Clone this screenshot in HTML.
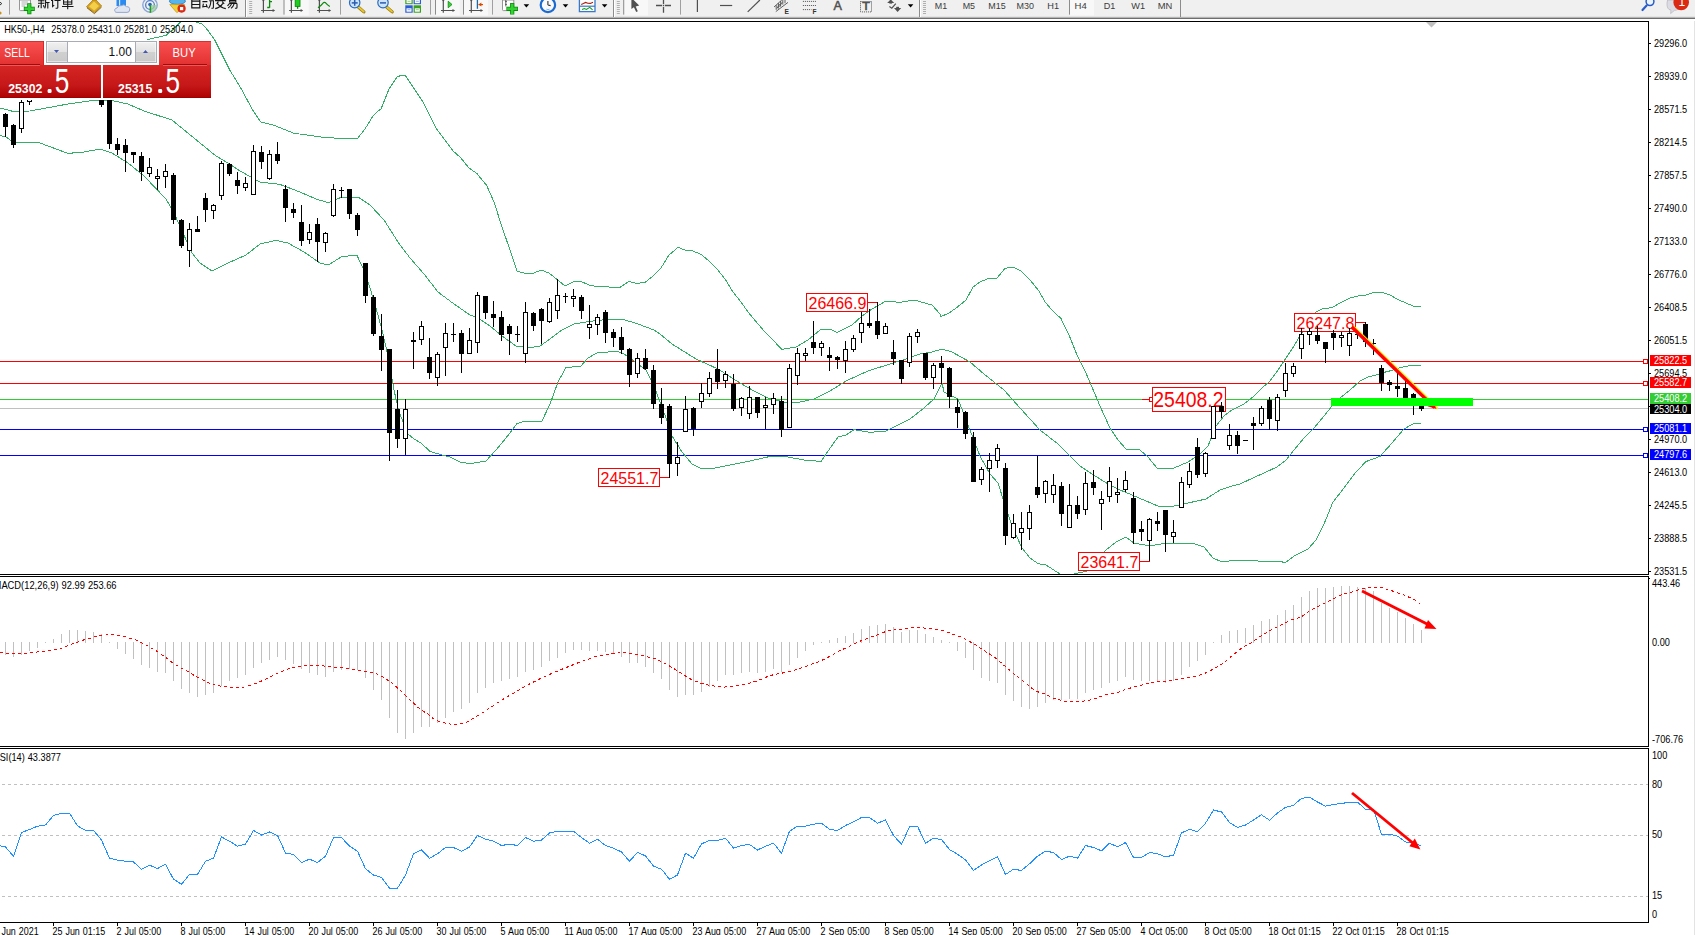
<!DOCTYPE html>
<html><head><meta charset="utf-8"><title>HK50-,H4</title>
<style>
html,body{margin:0;padding:0;background:#fff;}
body{width:1695px;height:935px;overflow:hidden;position:relative;font-family:"Liberation Sans",sans-serif;}
svg{position:absolute;left:0;top:0;display:block}
text{font-family:"Liberation Sans",sans-serif;}
.ax{font-size:9.2px;fill:#000}
.lb{font-size:17.5px;fill:#f00}
</style></head><body>
<svg width="1695" height="935" viewBox="0 0 1695 935">

<rect x="0" y="0" width="1695" height="935" fill="#fff"/>
<defs><clipPath id="cm"><rect x="0" y="22" width="1648" height="552"/></clipPath><clipPath id="c2"><rect x="0" y="577" width="1648" height="169"/></clipPath><clipPath id="c3"><rect x="0" y="749" width="1648" height="173"/></clipPath></defs>
<g clip-path="url(#cm)">
<rect x="0" y="361" width="1648" height="1" fill="#ff0000" shape-rendering="crispEdges"/>
<rect x="0" y="383" width="1648" height="1" fill="#ff0000" shape-rendering="crispEdges"/>
<rect x="0" y="399" width="1648" height="1" fill="#32cd32" shape-rendering="crispEdges"/>
<rect x="0" y="408" width="1648" height="1" fill="#c0c0c0" shape-rendering="crispEdges"/>
<rect x="0" y="429" width="1648" height="1" fill="#0000ff" shape-rendering="crispEdges"/>
<rect x="0" y="455" width="1648" height="1" fill="#0000ff" shape-rendering="crispEdges"/>
<rect x="1643.5" y="359.5" width="4" height="4" fill="#fff" stroke="#ff0000" stroke-width="1" shape-rendering="crispEdges"/>
<rect x="1643.5" y="381.5" width="4" height="4" fill="#fff" stroke="#ff0000" stroke-width="1" shape-rendering="crispEdges"/>
<rect x="1643.5" y="427.5" width="4" height="4" fill="#fff" stroke="#0000ff" stroke-width="1" shape-rendering="crispEdges"/>
<rect x="1643.5" y="453.5" width="4" height="4" fill="#fff" stroke="#0000ff" stroke-width="1" shape-rendering="crispEdges"/>
<polyline points="130.0,48.0 143.0,42.0 150.9,38.6 157.8,37.2 166.1,35.2 174.5,28.2 180.7,22.0 188.0,14.0 196.0,22.0 202.3,24.0 207.8,30.3 214.8,40.0 221.7,53.9 230.1,70.6 241.2,88.7 252.3,109.5 260.7,122.0 274.6,125.5 293.6,133.2 326.5,137.7 339.0,138.2 340.0,138.4 357.6,138.4 365.0,129.0 373.0,116.0 377.0,112.0 381.0,109.0 389.0,89.0 397.4,76.4 405.0,75.0 413.0,87.0 422.4,101.0 429.0,114.0 437.0,129.6 445.0,140.0 453.0,151.0 460.0,157.0 469.0,168.0 477.0,173.6 485.4,184.0 486.0,184.0 494.0,202.0 502.0,227.0 510.0,250.0 517.0,271.0 525.0,273.4 533.0,273.4 541.0,270.0 549.0,273.0 557.0,279.4 565.0,286.0 573.0,282.0 581.0,281.4 589.0,285.0 597.0,286.6 620.0,287.4 629.0,281.4 637.0,283.4 645.0,282.4 653.0,276.0 661.0,268.0 669.0,255.0 678.0,247.4 685.0,250.0 693.0,251.0 701.0,254.4 709.0,261.0 717.0,269.0 725.0,279.0 733.0,292.0 741.0,302.0 748.0,312.0 764.0,331.0 782.0,349.4 796.0,347.0 808.0,340.0 820.0,330.0 830.0,329.0 837.0,332.4 852.0,325.0 862.0,316.0 872.0,309.0 886.0,301.0 900.0,302.4 914.0,300.0 932.0,305.0 940.0,314.0 941.0,316.6 949.0,313.0 957.0,307.4 966.0,300.0 973.0,287.0 980.0,282.0 988.0,278.6 997.0,278.0 1005.0,268.4 1013.0,267.0 1021.0,271.0 1030.0,280.0 1039.0,291.0 1045.0,302.0 1052.0,310.0 1061.0,318.6 1069.0,335.0 1077.0,355.0 1085.0,371.0 1092.0,387.0 1100.0,406.0 1110.0,428.0 1118.0,440.0 1126.0,449.0 1140.0,450.0 1148.0,457.0 1157.0,468.0 1174.0,468.0 1188.0,462.0 1200.0,454.0 1208.0,446.0 1216.0,426.0 1224.0,416.0 1232.0,410.0 1244.0,404.0 1254.0,396.0 1262.0,388.0 1270.0,381.0 1278.0,370.0 1286.0,358.0 1294.0,346.0 1300.0,336.0 1308.0,322.0 1316.0,312.0 1322.0,309.0 1332.0,307.6 1340.0,303.0 1350.0,298.0 1360.0,295.6 1366.0,295.0 1374.0,292.4 1382.0,292.4 1390.0,295.0 1398.0,299.6 1406.0,303.0 1413.0,306.0 1421.0,306.0" fill="none" stroke="#34ae68" stroke-width="1" shape-rendering="crispEdges" />
<polyline points="0.0,108.0 13.0,111.4 30.0,111.0 68.0,104.0 96.0,100.0 112.0,100.6 128.0,104.0 144.0,111.0 172.0,120.0 200.0,143.0 216.0,156.0 228.0,163.0 240.0,171.0 260.0,182.0 280.0,184.4 300.0,192.0 316.0,199.0 326.0,202.0 330.0,202.0 342.0,197.0 358.0,197.0 370.0,205.0 384.0,220.0 398.0,242.0 410.0,258.0 424.0,274.0 438.0,292.0 454.0,304.0 470.0,315.0 478.0,318.0 490.0,326.0 502.0,336.0 516.0,346.0 530.0,347.6 540.0,346.0 550.0,339.0 562.0,330.0 574.0,324.0 590.0,321.4 610.0,319.0 622.0,319.0 638.0,324.0 654.0,330.0 660.0,334.0 672.0,344.0 696.0,359.0 718.0,369.0 740.0,383.0 754.0,391.0 768.0,398.0 784.0,402.0 800.0,402.0 814.0,399.0 830.0,391.0 846.0,381.0 868.0,371.0 890.0,364.0 906.0,359.0 920.0,354.0 932.0,352.0 942.0,349.0 952.0,352.0 970.0,362.0 984.0,374.0 1004.0,390.0 1020.0,408.0 1040.0,430.0 1058.0,444.0 1070.0,456.0 1080.0,466.0 1092.0,474.0 1108.0,484.0 1120.0,490.0 1132.0,495.0 1146.0,501.0 1158.0,506.0 1174.0,506.0 1188.0,503.0 1206.0,499.0 1220.0,490.0 1232.0,486.0 1239.0,484.4 1277.0,467.0 1286.0,460.0 1294.0,450.0 1304.0,438.0 1314.0,428.0 1324.0,416.0 1332.0,406.0 1340.0,398.0 1350.0,390.0 1360.0,381.0 1368.0,377.0 1376.0,375.0 1384.0,372.4 1392.0,370.4 1400.0,367.6 1410.0,365.6 1421.0,365.4" fill="none" stroke="#34ae68" stroke-width="1" shape-rendering="crispEdges" />
<polyline points="0.0,135.4 6.0,137.0 14.0,142.6 40.0,143.0 68.0,153.4 84.0,152.0 100.0,149.0 112.0,153.0 128.0,163.0 144.0,176.0 166.0,199.0 174.0,213.0 192.0,253.0 200.0,263.0 212.0,271.0 228.0,263.0 246.0,255.0 260.0,244.0 276.0,240.4 288.0,243.0 304.0,252.0 320.0,263.0 328.0,265.0 330.0,264.0 342.0,256.4 357.0,255.4 363.0,268.0 370.0,288.0 376.0,308.0 382.0,330.0 388.0,356.0 394.0,390.0 399.0,412.0 408.0,434.0 414.0,439.0 421.0,443.0 430.0,451.4 440.0,454.4 450.0,457.0 460.0,462.0 470.0,463.6 486.0,461.0 496.0,450.0 506.0,438.0 517.0,423.6 522.0,422.0 542.0,421.0 550.0,404.0 558.0,382.0 566.0,367.6 581.0,366.0 588.0,358.0 598.0,352.4 618.0,351.6 624.0,354.0 630.0,358.0 638.0,364.0 646.0,370.0 654.0,386.0 660.0,402.0 666.0,418.0 672.0,436.0 682.0,452.0 692.0,464.0 700.0,468.0 710.0,469.0 730.0,465.0 750.0,461.0 772.0,456.0 788.0,457.0 804.0,460.0 821.0,461.4 826.0,454.0 838.0,437.0 846.0,435.0 854.0,429.6 870.0,432.4 886.0,431.0 898.0,425.0 910.0,419.0 924.0,408.0 934.0,399.0 942.0,383.0 944.0,392.0 958.0,399.0 968.0,425.0 980.0,456.0 990.0,474.0 998.0,483.0 1004.0,502.0 1012.0,526.0 1022.0,548.0 1030.0,558.0 1038.0,563.6 1046.0,565.0 1060.0,574.0" fill="none" stroke="#34ae68" stroke-width="1" shape-rendering="crispEdges" />
<polyline points="1074.0,574.0 1087.0,571.0 1106.0,550.0 1116.0,542.0 1126.0,537.0 1134.0,543.0 1150.0,546.0 1166.0,543.0 1180.0,543.0 1194.0,543.6 1204.0,547.0 1213.0,558.0 1222.0,562.0 1236.0,560.0 1258.0,561.0 1280.0,561.0 1285.0,563.0 1294.0,556.0 1308.0,549.0 1316.0,540.0 1324.0,524.0 1333.0,502.0 1344.0,488.0 1356.0,472.0 1366.0,461.6 1380.0,456.4 1392.0,443.0 1404.0,429.0 1413.0,424.0 1421.0,423.4" fill="none" stroke="#34ae68" stroke-width="1" shape-rendering="crispEdges" />
<rect x="868" y="302" width="10" height="1" fill="#f00" shape-rendering="crispEdges"/>
<rect x="806.5" y="293.5" width="61" height="18" fill="#fff" stroke="#f00" stroke-width="1" shape-rendering="crispEdges"/>
<text x="808.5" y="309" font-size="16.5" fill="#f00" textLength="57.8" lengthAdjust="spacingAndGlyphs">26466.9</text>
<rect x="660" y="477" width="10" height="1" fill="#f00" shape-rendering="crispEdges"/>
<rect x="598.5" y="468.5" width="61" height="18" fill="#fff" stroke="#f00" stroke-width="1" shape-rendering="crispEdges"/>
<text x="600.5" y="484" font-size="16.5" fill="#f00" textLength="57.8" lengthAdjust="spacingAndGlyphs">24551.7</text>
<rect x="1140" y="561" width="10" height="1" fill="#f00" shape-rendering="crispEdges"/>
<rect x="1078.5" y="552.5" width="61" height="18" fill="#fff" stroke="#f00" stroke-width="1" shape-rendering="crispEdges"/>
<text x="1080.5" y="568" font-size="16.5" fill="#f00" textLength="57.8" lengthAdjust="spacingAndGlyphs">23641.7</text>
<rect x="1356" y="322" width="10" height="1" fill="#f00" shape-rendering="crispEdges"/>
<rect x="1294.5" y="313.5" width="61" height="18" fill="#fff" stroke="#f00" stroke-width="1" shape-rendering="crispEdges"/>
<text x="1296.5" y="329" font-size="16.5" fill="#f00" textLength="57.8" lengthAdjust="spacingAndGlyphs">26247.8</text>
<rect x="1142" y="399" width="10" height="1" fill="#f00" shape-rendering="crispEdges"/>
<rect x="1149.5" y="397.5" width="4" height="4" fill="#fff" stroke="#f00" shape-rendering="crispEdges"/>
<rect x="1152.5" y="387.5" width="73" height="24" fill="#fff" stroke="#f00" stroke-width="1" shape-rendering="crispEdges"/>
<text x="1153.3" y="407.2" font-size="22.6" fill="#f00" textLength="70.2" lengthAdjust="spacingAndGlyphs">25408.2</text>
<g shape-rendering="crispEdges">
<rect x="5" y="113" width="1" height="24" fill="#000"/>
<rect x="3" y="114" width="5" height="13" fill="#000"/>
<rect x="13" y="124" width="1" height="24" fill="#000"/>
<rect x="11" y="125" width="5" height="20" fill="#000"/>
<rect x="21" y="100" width="1" height="33" fill="#000"/>
<rect x="19" y="102" width="5" height="27" fill="#000"/>
<rect x="20" y="103" width="3" height="25" fill="#fff"/>
<rect x="29" y="91" width="1" height="14" fill="#000"/>
<rect x="27" y="93" width="5" height="9" fill="#000"/>
<rect x="28" y="94" width="3" height="7" fill="#fff"/>
<rect x="101" y="97" width="1" height="10" fill="#000"/>
<rect x="99" y="99" width="5" height="6" fill="#000"/>
<rect x="109" y="97" width="1" height="52" fill="#000"/>
<rect x="107" y="98" width="5" height="46" fill="#000"/>
<rect x="117" y="138" width="1" height="17" fill="#000"/>
<rect x="115" y="144" width="5" height="6" fill="#000"/>
<rect x="125" y="139" width="1" height="33" fill="#000"/>
<rect x="123" y="145" width="5" height="8" fill="#000"/>
<rect x="133" y="152" width="1" height="11" fill="#000"/>
<rect x="131" y="152" width="5" height="3" fill="#000"/>
<rect x="141" y="152" width="1" height="29" fill="#000"/>
<rect x="139" y="156" width="5" height="16" fill="#000"/>
<rect x="149" y="158" width="1" height="19" fill="#000"/>
<rect x="147" y="167" width="5" height="7" fill="#000"/>
<rect x="148" y="168" width="3" height="5" fill="#fff"/>
<rect x="157" y="169" width="1" height="21" fill="#000"/>
<rect x="155" y="176" width="5" height="3" fill="#000"/>
<rect x="156" y="177" width="3" height="1" fill="#fff"/>
<rect x="165" y="164" width="1" height="24" fill="#000"/>
<rect x="163" y="171" width="5" height="6" fill="#000"/>
<rect x="164" y="172" width="3" height="4" fill="#fff"/>
<rect x="173" y="173" width="1" height="51" fill="#000"/>
<rect x="171" y="175" width="5" height="45" fill="#000"/>
<rect x="181" y="219" width="1" height="29" fill="#000"/>
<rect x="179" y="220" width="5" height="26" fill="#000"/>
<rect x="189" y="223" width="1" height="44" fill="#000"/>
<rect x="187" y="229" width="5" height="22" fill="#000"/>
<rect x="188" y="230" width="3" height="20" fill="#fff"/>
<rect x="197" y="216" width="1" height="16" fill="#000"/>
<rect x="195" y="229" width="5" height="3" fill="#000"/>
<rect x="205" y="193" width="1" height="29" fill="#000"/>
<rect x="203" y="198" width="5" height="12" fill="#000"/>
<rect x="213" y="204" width="1" height="15" fill="#000"/>
<rect x="211" y="205" width="5" height="6" fill="#000"/>
<rect x="212" y="206" width="3" height="4" fill="#fff"/>
<rect x="221" y="161" width="1" height="39" fill="#000"/>
<rect x="219" y="163" width="5" height="33" fill="#000"/>
<rect x="220" y="164" width="3" height="31" fill="#fff"/>
<rect x="229" y="163" width="1" height="13" fill="#000"/>
<rect x="227" y="164" width="5" height="10" fill="#000"/>
<rect x="237" y="172" width="1" height="22" fill="#000"/>
<rect x="235" y="180" width="5" height="6" fill="#000"/>
<rect x="245" y="177" width="1" height="14" fill="#000"/>
<rect x="243" y="183" width="5" height="5" fill="#000"/>
<rect x="244" y="184" width="3" height="3" fill="#fff"/>
<rect x="253" y="145" width="1" height="50" fill="#000"/>
<rect x="251" y="151" width="5" height="44" fill="#000"/>
<rect x="252" y="152" width="3" height="42" fill="#fff"/>
<rect x="261" y="146" width="1" height="23" fill="#000"/>
<rect x="259" y="152" width="5" height="10" fill="#000"/>
<rect x="269" y="150" width="1" height="30" fill="#000"/>
<rect x="267" y="154" width="5" height="25" fill="#000"/>
<rect x="268" y="155" width="3" height="23" fill="#fff"/>
<rect x="277" y="142" width="1" height="22" fill="#000"/>
<rect x="275" y="154" width="5" height="7" fill="#000"/>
<rect x="285" y="185" width="1" height="37" fill="#000"/>
<rect x="283" y="189" width="5" height="19" fill="#000"/>
<rect x="293" y="203" width="1" height="15" fill="#000"/>
<rect x="291" y="209" width="5" height="4" fill="#000"/>
<rect x="301" y="205" width="1" height="41" fill="#000"/>
<rect x="299" y="222" width="5" height="19" fill="#000"/>
<rect x="309" y="224" width="1" height="20" fill="#000"/>
<rect x="307" y="232" width="5" height="8" fill="#000"/>
<rect x="308" y="233" width="3" height="6" fill="#fff"/>
<rect x="317" y="218" width="1" height="44" fill="#000"/>
<rect x="315" y="224" width="5" height="18" fill="#000"/>
<rect x="325" y="232" width="1" height="20" fill="#000"/>
<rect x="323" y="233" width="5" height="10" fill="#000"/>
<rect x="324" y="234" width="3" height="8" fill="#fff"/>
<rect x="333" y="184" width="1" height="33" fill="#000"/>
<rect x="331" y="189" width="5" height="27" fill="#000"/>
<rect x="332" y="190" width="3" height="25" fill="#fff"/>
<rect x="341" y="187" width="1" height="11" fill="#000"/>
<rect x="339" y="190" width="5" height="1" fill="#000"/>
<rect x="349" y="189" width="1" height="30" fill="#000"/>
<rect x="347" y="189" width="5" height="25" fill="#000"/>
<rect x="357" y="213" width="1" height="23" fill="#000"/>
<rect x="355" y="215" width="5" height="15" fill="#000"/>
<rect x="365" y="263" width="1" height="40" fill="#000"/>
<rect x="363" y="263" width="5" height="33" fill="#000"/>
<rect x="373" y="295" width="1" height="41" fill="#000"/>
<rect x="371" y="297" width="5" height="37" fill="#000"/>
<rect x="381" y="314" width="1" height="57" fill="#000"/>
<rect x="379" y="336" width="5" height="14" fill="#000"/>
<rect x="389" y="349" width="1" height="112" fill="#000"/>
<rect x="387" y="349" width="5" height="84" fill="#000"/>
<rect x="397" y="390" width="1" height="58" fill="#000"/>
<rect x="395" y="409" width="5" height="30" fill="#000"/>
<rect x="405" y="399" width="1" height="56" fill="#000"/>
<rect x="403" y="409" width="5" height="30" fill="#000"/>
<rect x="404" y="410" width="3" height="28" fill="#fff"/>
<rect x="413" y="332" width="1" height="37" fill="#000"/>
<rect x="411" y="340" width="5" height="2" fill="#000"/>
<rect x="421" y="321" width="1" height="24" fill="#000"/>
<rect x="419" y="326" width="5" height="14" fill="#000"/>
<rect x="420" y="327" width="3" height="12" fill="#fff"/>
<rect x="429" y="338" width="1" height="41" fill="#000"/>
<rect x="427" y="357" width="5" height="16" fill="#000"/>
<rect x="437" y="352" width="1" height="34" fill="#000"/>
<rect x="435" y="354" width="5" height="24" fill="#000"/>
<rect x="436" y="355" width="3" height="22" fill="#fff"/>
<rect x="445" y="323" width="1" height="53" fill="#000"/>
<rect x="443" y="333" width="5" height="15" fill="#000"/>
<rect x="444" y="334" width="3" height="13" fill="#fff"/>
<rect x="453" y="323" width="1" height="19" fill="#000"/>
<rect x="451" y="334" width="5" height="1" fill="#000"/>
<rect x="461" y="330" width="1" height="43" fill="#000"/>
<rect x="459" y="333" width="5" height="21" fill="#000"/>
<rect x="469" y="328" width="1" height="26" fill="#000"/>
<rect x="467" y="340" width="5" height="14" fill="#000"/>
<rect x="468" y="341" width="3" height="12" fill="#fff"/>
<rect x="477" y="292" width="1" height="61" fill="#000"/>
<rect x="475" y="295" width="5" height="48" fill="#000"/>
<rect x="476" y="296" width="3" height="46" fill="#fff"/>
<rect x="485" y="296" width="1" height="23" fill="#000"/>
<rect x="483" y="296" width="5" height="17" fill="#000"/>
<rect x="493" y="301" width="1" height="26" fill="#000"/>
<rect x="491" y="314" width="5" height="4" fill="#000"/>
<rect x="501" y="311" width="1" height="30" fill="#000"/>
<rect x="499" y="317" width="5" height="18" fill="#000"/>
<rect x="509" y="324" width="1" height="31" fill="#000"/>
<rect x="507" y="326" width="5" height="8" fill="#000"/>
<rect x="517" y="326" width="1" height="16" fill="#000"/>
<rect x="515" y="334" width="5" height="1" fill="#000"/>
<rect x="525" y="302" width="1" height="61" fill="#000"/>
<rect x="523" y="312" width="5" height="42" fill="#000"/>
<rect x="524" y="313" width="3" height="40" fill="#fff"/>
<rect x="533" y="312" width="1" height="19" fill="#000"/>
<rect x="531" y="313" width="5" height="13" fill="#000"/>
<rect x="541" y="308" width="1" height="36" fill="#000"/>
<rect x="539" y="309" width="5" height="12" fill="#000"/>
<rect x="549" y="298" width="1" height="25" fill="#000"/>
<rect x="547" y="302" width="5" height="20" fill="#000"/>
<rect x="548" y="303" width="3" height="18" fill="#fff"/>
<rect x="557" y="279" width="1" height="40" fill="#000"/>
<rect x="555" y="295" width="5" height="16" fill="#000"/>
<rect x="556" y="296" width="3" height="14" fill="#fff"/>
<rect x="565" y="293" width="1" height="10" fill="#000"/>
<rect x="563" y="296" width="5" height="1" fill="#000"/>
<rect x="573" y="289" width="1" height="18" fill="#000"/>
<rect x="571" y="296" width="5" height="3" fill="#000"/>
<rect x="572" y="297" width="3" height="1" fill="#fff"/>
<rect x="581" y="295" width="1" height="24" fill="#000"/>
<rect x="579" y="297" width="5" height="14" fill="#000"/>
<rect x="589" y="305" width="1" height="34" fill="#000"/>
<rect x="587" y="324" width="5" height="4" fill="#000"/>
<rect x="588" y="325" width="3" height="2" fill="#fff"/>
<rect x="597" y="314" width="1" height="21" fill="#000"/>
<rect x="595" y="317" width="5" height="8" fill="#000"/>
<rect x="596" y="318" width="3" height="6" fill="#fff"/>
<rect x="605" y="310" width="1" height="33" fill="#000"/>
<rect x="603" y="312" width="5" height="21" fill="#000"/>
<rect x="613" y="329" width="1" height="18" fill="#000"/>
<rect x="611" y="332" width="5" height="6" fill="#000"/>
<rect x="621" y="327" width="1" height="27" fill="#000"/>
<rect x="619" y="337" width="5" height="13" fill="#000"/>
<rect x="629" y="348" width="1" height="39" fill="#000"/>
<rect x="627" y="349" width="5" height="26" fill="#000"/>
<rect x="637" y="353" width="1" height="25" fill="#000"/>
<rect x="635" y="358" width="5" height="16" fill="#000"/>
<rect x="636" y="359" width="3" height="14" fill="#fff"/>
<rect x="645" y="349" width="1" height="21" fill="#000"/>
<rect x="643" y="358" width="5" height="11" fill="#000"/>
<rect x="653" y="365" width="1" height="44" fill="#000"/>
<rect x="651" y="370" width="5" height="34" fill="#000"/>
<rect x="661" y="388" width="1" height="36" fill="#000"/>
<rect x="659" y="404" width="5" height="14" fill="#000"/>
<rect x="669" y="404" width="1" height="74" fill="#000"/>
<rect x="667" y="406" width="5" height="58" fill="#000"/>
<rect x="677" y="442" width="1" height="34" fill="#000"/>
<rect x="675" y="457" width="5" height="7" fill="#000"/>
<rect x="676" y="458" width="3" height="5" fill="#fff"/>
<rect x="685" y="396" width="1" height="36" fill="#000"/>
<rect x="683" y="409" width="5" height="23" fill="#000"/>
<rect x="684" y="410" width="3" height="21" fill="#fff"/>
<rect x="693" y="407" width="1" height="29" fill="#000"/>
<rect x="691" y="408" width="5" height="21" fill="#000"/>
<rect x="701" y="383" width="1" height="25" fill="#000"/>
<rect x="699" y="393" width="5" height="9" fill="#000"/>
<rect x="700" y="394" width="3" height="7" fill="#fff"/>
<rect x="709" y="372" width="1" height="25" fill="#000"/>
<rect x="707" y="378" width="5" height="16" fill="#000"/>
<rect x="708" y="379" width="3" height="14" fill="#fff"/>
<rect x="717" y="349" width="1" height="40" fill="#000"/>
<rect x="715" y="369" width="5" height="13" fill="#000"/>
<rect x="725" y="371" width="1" height="17" fill="#000"/>
<rect x="723" y="374" width="5" height="7" fill="#000"/>
<rect x="724" y="375" width="3" height="5" fill="#fff"/>
<rect x="733" y="374" width="1" height="37" fill="#000"/>
<rect x="731" y="384" width="5" height="25" fill="#000"/>
<rect x="741" y="397" width="1" height="19" fill="#000"/>
<rect x="739" y="398" width="5" height="10" fill="#000"/>
<rect x="740" y="399" width="3" height="8" fill="#fff"/>
<rect x="749" y="386" width="1" height="33" fill="#000"/>
<rect x="747" y="397" width="5" height="17" fill="#000"/>
<rect x="748" y="398" width="3" height="15" fill="#fff"/>
<rect x="757" y="397" width="1" height="21" fill="#000"/>
<rect x="755" y="397" width="5" height="16" fill="#000"/>
<rect x="765" y="397" width="1" height="32" fill="#000"/>
<rect x="763" y="405" width="5" height="3" fill="#000"/>
<rect x="764" y="406" width="3" height="1" fill="#fff"/>
<rect x="773" y="393" width="1" height="21" fill="#000"/>
<rect x="771" y="398" width="5" height="7" fill="#000"/>
<rect x="772" y="399" width="3" height="5" fill="#fff"/>
<rect x="781" y="396" width="1" height="41" fill="#000"/>
<rect x="779" y="401" width="5" height="29" fill="#000"/>
<rect x="789" y="364" width="1" height="64" fill="#000"/>
<rect x="787" y="368" width="5" height="60" fill="#000"/>
<rect x="788" y="369" width="3" height="58" fill="#fff"/>
<rect x="797" y="348" width="1" height="37" fill="#000"/>
<rect x="795" y="353" width="5" height="23" fill="#000"/>
<rect x="796" y="354" width="3" height="21" fill="#fff"/>
<rect x="805" y="348" width="1" height="13" fill="#000"/>
<rect x="803" y="353" width="5" height="3" fill="#000"/>
<rect x="804" y="354" width="3" height="1" fill="#fff"/>
<rect x="813" y="321" width="1" height="33" fill="#000"/>
<rect x="811" y="342" width="5" height="6" fill="#000"/>
<rect x="821" y="341" width="1" height="15" fill="#000"/>
<rect x="819" y="343" width="5" height="5" fill="#000"/>
<rect x="820" y="344" width="3" height="3" fill="#fff"/>
<rect x="829" y="347" width="1" height="24" fill="#000"/>
<rect x="827" y="355" width="5" height="3" fill="#000"/>
<rect x="837" y="356" width="1" height="13" fill="#000"/>
<rect x="835" y="357" width="5" height="3" fill="#000"/>
<rect x="845" y="341" width="1" height="32" fill="#000"/>
<rect x="843" y="349" width="5" height="12" fill="#000"/>
<rect x="844" y="350" width="3" height="10" fill="#fff"/>
<rect x="853" y="335" width="1" height="17" fill="#000"/>
<rect x="851" y="338" width="5" height="12" fill="#000"/>
<rect x="852" y="339" width="3" height="10" fill="#fff"/>
<rect x="861" y="312" width="1" height="31" fill="#000"/>
<rect x="859" y="323" width="5" height="10" fill="#000"/>
<rect x="860" y="324" width="3" height="8" fill="#fff"/>
<rect x="869" y="309" width="1" height="19" fill="#000"/>
<rect x="867" y="323" width="5" height="3" fill="#000"/>
<rect x="877" y="302" width="1" height="37" fill="#000"/>
<rect x="875" y="321" width="5" height="14" fill="#000"/>
<rect x="885" y="323" width="1" height="11" fill="#000"/>
<rect x="883" y="326" width="5" height="8" fill="#000"/>
<rect x="884" y="327" width="3" height="6" fill="#fff"/>
<rect x="893" y="340" width="1" height="25" fill="#000"/>
<rect x="891" y="352" width="5" height="7" fill="#000"/>
<rect x="901" y="360" width="1" height="24" fill="#000"/>
<rect x="899" y="360" width="5" height="19" fill="#000"/>
<rect x="909" y="333" width="1" height="34" fill="#000"/>
<rect x="907" y="336" width="5" height="27" fill="#000"/>
<rect x="908" y="337" width="3" height="25" fill="#fff"/>
<rect x="917" y="329" width="1" height="14" fill="#000"/>
<rect x="915" y="332" width="5" height="5" fill="#000"/>
<rect x="916" y="333" width="3" height="3" fill="#fff"/>
<rect x="925" y="353" width="1" height="27" fill="#000"/>
<rect x="923" y="353" width="5" height="25" fill="#000"/>
<rect x="933" y="363" width="1" height="26" fill="#000"/>
<rect x="931" y="365" width="5" height="13" fill="#000"/>
<rect x="932" y="366" width="3" height="11" fill="#fff"/>
<rect x="941" y="356" width="1" height="28" fill="#000"/>
<rect x="939" y="363" width="5" height="5" fill="#000"/>
<rect x="949" y="367" width="1" height="41" fill="#000"/>
<rect x="947" y="368" width="5" height="29" fill="#000"/>
<rect x="957" y="399" width="1" height="29" fill="#000"/>
<rect x="955" y="407" width="5" height="6" fill="#000"/>
<rect x="965" y="411" width="1" height="28" fill="#000"/>
<rect x="963" y="412" width="5" height="22" fill="#000"/>
<rect x="973" y="432" width="1" height="50" fill="#000"/>
<rect x="971" y="437" width="5" height="45" fill="#000"/>
<rect x="981" y="467" width="1" height="18" fill="#000"/>
<rect x="979" y="469" width="5" height="11" fill="#000"/>
<rect x="980" y="470" width="3" height="9" fill="#fff"/>
<rect x="989" y="453" width="1" height="39" fill="#000"/>
<rect x="987" y="460" width="5" height="9" fill="#000"/>
<rect x="988" y="461" width="3" height="7" fill="#fff"/>
<rect x="997" y="444" width="1" height="24" fill="#000"/>
<rect x="995" y="448" width="5" height="13" fill="#000"/>
<rect x="996" y="449" width="3" height="11" fill="#fff"/>
<rect x="1005" y="463" width="1" height="82" fill="#000"/>
<rect x="1003" y="468" width="5" height="68" fill="#000"/>
<rect x="1013" y="514" width="1" height="25" fill="#000"/>
<rect x="1011" y="523" width="5" height="15" fill="#000"/>
<rect x="1012" y="524" width="3" height="13" fill="#fff"/>
<rect x="1021" y="512" width="1" height="38" fill="#000"/>
<rect x="1019" y="528" width="5" height="5" fill="#000"/>
<rect x="1020" y="529" width="3" height="3" fill="#fff"/>
<rect x="1029" y="505" width="1" height="35" fill="#000"/>
<rect x="1027" y="512" width="5" height="17" fill="#000"/>
<rect x="1028" y="513" width="3" height="15" fill="#fff"/>
<rect x="1037" y="456" width="1" height="42" fill="#000"/>
<rect x="1035" y="487" width="5" height="8" fill="#000"/>
<rect x="1045" y="480" width="1" height="23" fill="#000"/>
<rect x="1043" y="481" width="5" height="13" fill="#000"/>
<rect x="1044" y="482" width="3" height="11" fill="#fff"/>
<rect x="1053" y="474" width="1" height="29" fill="#000"/>
<rect x="1051" y="485" width="5" height="10" fill="#000"/>
<rect x="1052" y="486" width="3" height="8" fill="#fff"/>
<rect x="1061" y="482" width="1" height="44" fill="#000"/>
<rect x="1059" y="486" width="5" height="28" fill="#000"/>
<rect x="1069" y="484" width="1" height="44" fill="#000"/>
<rect x="1067" y="505" width="5" height="23" fill="#000"/>
<rect x="1068" y="506" width="3" height="21" fill="#fff"/>
<rect x="1077" y="496" width="1" height="23" fill="#000"/>
<rect x="1075" y="505" width="5" height="9" fill="#000"/>
<rect x="1085" y="472" width="1" height="43" fill="#000"/>
<rect x="1083" y="483" width="5" height="27" fill="#000"/>
<rect x="1084" y="484" width="3" height="25" fill="#fff"/>
<rect x="1093" y="470" width="1" height="25" fill="#000"/>
<rect x="1091" y="482" width="5" height="6" fill="#000"/>
<rect x="1101" y="491" width="1" height="39" fill="#000"/>
<rect x="1099" y="499" width="5" height="5" fill="#000"/>
<rect x="1100" y="500" width="3" height="3" fill="#fff"/>
<rect x="1109" y="467" width="1" height="35" fill="#000"/>
<rect x="1107" y="481" width="5" height="16" fill="#000"/>
<rect x="1108" y="482" width="3" height="14" fill="#fff"/>
<rect x="1117" y="478" width="1" height="25" fill="#000"/>
<rect x="1115" y="492" width="5" height="3" fill="#000"/>
<rect x="1116" y="493" width="3" height="1" fill="#fff"/>
<rect x="1125" y="471" width="1" height="21" fill="#000"/>
<rect x="1123" y="480" width="5" height="10" fill="#000"/>
<rect x="1124" y="481" width="3" height="8" fill="#fff"/>
<rect x="1133" y="492" width="1" height="52" fill="#000"/>
<rect x="1131" y="498" width="5" height="35" fill="#000"/>
<rect x="1141" y="521" width="1" height="20" fill="#000"/>
<rect x="1139" y="529" width="5" height="3" fill="#000"/>
<rect x="1149" y="518" width="1" height="43" fill="#000"/>
<rect x="1147" y="519" width="5" height="22" fill="#000"/>
<rect x="1148" y="520" width="3" height="20" fill="#fff"/>
<rect x="1157" y="512" width="1" height="19" fill="#000"/>
<rect x="1155" y="521" width="5" height="3" fill="#000"/>
<rect x="1165" y="510" width="1" height="42" fill="#000"/>
<rect x="1163" y="510" width="5" height="25" fill="#000"/>
<rect x="1173" y="520" width="1" height="23" fill="#000"/>
<rect x="1171" y="532" width="5" height="5" fill="#000"/>
<rect x="1172" y="533" width="3" height="3" fill="#fff"/>
<rect x="1181" y="477" width="1" height="31" fill="#000"/>
<rect x="1179" y="482" width="5" height="26" fill="#000"/>
<rect x="1180" y="483" width="3" height="24" fill="#fff"/>
<rect x="1189" y="463" width="1" height="25" fill="#000"/>
<rect x="1187" y="471" width="5" height="14" fill="#000"/>
<rect x="1188" y="472" width="3" height="12" fill="#fff"/>
<rect x="1197" y="438" width="1" height="40" fill="#000"/>
<rect x="1195" y="447" width="5" height="28" fill="#000"/>
<rect x="1205" y="452" width="1" height="25" fill="#000"/>
<rect x="1203" y="453" width="5" height="21" fill="#000"/>
<rect x="1204" y="454" width="3" height="19" fill="#fff"/>
<rect x="1213" y="406" width="1" height="33" fill="#000"/>
<rect x="1211" y="406" width="5" height="33" fill="#000"/>
<rect x="1212" y="407" width="3" height="31" fill="#fff"/>
<rect x="1221" y="402" width="1" height="16" fill="#000"/>
<rect x="1219" y="406" width="5" height="6" fill="#000"/>
<rect x="1229" y="424" width="1" height="26" fill="#000"/>
<rect x="1227" y="435" width="5" height="11" fill="#000"/>
<rect x="1228" y="436" width="3" height="9" fill="#fff"/>
<rect x="1237" y="431" width="1" height="23" fill="#000"/>
<rect x="1235" y="435" width="5" height="11" fill="#000"/>
<rect x="1245" y="440" width="1" height="1" fill="#000"/>
<rect x="1243" y="440" width="5" height="1" fill="#000"/>
<rect x="1253" y="417" width="1" height="33" fill="#000"/>
<rect x="1251" y="423" width="5" height="3" fill="#000"/>
<rect x="1261" y="406" width="1" height="20" fill="#000"/>
<rect x="1259" y="408" width="5" height="16" fill="#000"/>
<rect x="1260" y="409" width="3" height="14" fill="#fff"/>
<rect x="1269" y="397" width="1" height="33" fill="#000"/>
<rect x="1267" y="400" width="5" height="19" fill="#000"/>
<rect x="1277" y="394" width="1" height="37" fill="#000"/>
<rect x="1275" y="397" width="5" height="24" fill="#000"/>
<rect x="1276" y="398" width="3" height="22" fill="#fff"/>
<rect x="1285" y="363" width="1" height="34" fill="#000"/>
<rect x="1283" y="373" width="5" height="18" fill="#000"/>
<rect x="1284" y="374" width="3" height="16" fill="#fff"/>
<rect x="1293" y="363" width="1" height="14" fill="#000"/>
<rect x="1291" y="366" width="5" height="8" fill="#000"/>
<rect x="1292" y="367" width="3" height="6" fill="#fff"/>
<rect x="1301" y="328" width="1" height="31" fill="#000"/>
<rect x="1299" y="334" width="5" height="15" fill="#000"/>
<rect x="1300" y="335" width="3" height="13" fill="#fff"/>
<rect x="1309" y="328" width="1" height="17" fill="#000"/>
<rect x="1307" y="331" width="5" height="4" fill="#000"/>
<rect x="1308" y="332" width="3" height="2" fill="#fff"/>
<rect x="1317" y="326" width="1" height="18" fill="#000"/>
<rect x="1315" y="335" width="5" height="6" fill="#000"/>
<rect x="1325" y="342" width="1" height="21" fill="#000"/>
<rect x="1323" y="342" width="5" height="7" fill="#000"/>
<rect x="1333" y="330" width="1" height="20" fill="#000"/>
<rect x="1331" y="333" width="5" height="5" fill="#000"/>
<rect x="1341" y="332" width="1" height="15" fill="#000"/>
<rect x="1339" y="335" width="5" height="3" fill="#000"/>
<rect x="1340" y="336" width="3" height="1" fill="#fff"/>
<rect x="1349" y="328" width="1" height="28" fill="#000"/>
<rect x="1347" y="333" width="5" height="13" fill="#000"/>
<rect x="1348" y="334" width="3" height="11" fill="#fff"/>
<rect x="1357" y="330" width="1" height="9" fill="#000"/>
<rect x="1355" y="334" width="5" height="1" fill="#000"/>
<rect x="1365" y="322" width="1" height="25" fill="#000"/>
<rect x="1363" y="324" width="5" height="18" fill="#000"/>
<rect x="1373" y="339" width="1" height="16" fill="#000"/>
<rect x="1371" y="343" width="5" height="1" fill="#000"/>
<rect x="1381" y="365" width="1" height="26" fill="#000"/>
<rect x="1379" y="368" width="5" height="15" fill="#000"/>
<rect x="1389" y="380" width="1" height="11" fill="#000"/>
<rect x="1387" y="382" width="5" height="3" fill="#000"/>
<rect x="1397" y="372" width="1" height="25" fill="#000"/>
<rect x="1395" y="386" width="5" height="3" fill="#000"/>
<rect x="1405" y="381" width="1" height="20" fill="#000"/>
<rect x="1403" y="388" width="5" height="12" fill="#000"/>
<rect x="1413" y="393" width="1" height="22" fill="#000"/>
<rect x="1411" y="394" width="5" height="6" fill="#000"/>
<rect x="1421" y="402" width="1" height="9" fill="#000"/>
<rect x="1419" y="406" width="5" height="3" fill="#000"/>
</g>
<line x1="1353.3" y1="325.7" x2="1436.2" y2="406.4" stroke="#ffee00" stroke-width="1.5"/>
<line x1="1351.8" y1="327" x2="1434.6" y2="407.6" stroke="#ff0000" stroke-width="3.4"/>
<polygon points="1437,409 1427.5,406.2 1431,397.5 1433.5,404" fill="#ff0000"/>
<line x1="1436" y1="406.2" x2="1437.6" y2="409" stroke="#ffee00" stroke-width="1.6"/>
<rect x="1331" y="398" width="142" height="8" fill="#00ff00" shape-rendering="crispEdges"/>
</g>
<rect x="0" y="21" width="1649" height="1" fill="#000" shape-rendering="crispEdges"/>
<rect x="0" y="574" width="1649" height="1" fill="#000" shape-rendering="crispEdges"/>
<rect x="0" y="576" width="1649" height="1" fill="#000" shape-rendering="crispEdges"/>
<rect x="0" y="746" width="1649" height="1" fill="#000" shape-rendering="crispEdges"/>
<rect x="0" y="748" width="1649" height="1" fill="#000" shape-rendering="crispEdges"/>
<rect x="0" y="922" width="1649" height="1" fill="#000" shape-rendering="crispEdges"/>
<rect x="1648" y="21" width="1" height="902" fill="#000" shape-rendering="crispEdges"/>
<rect x="1648" y="575" width="1" height="1" fill="#fff" shape-rendering="crispEdges"/>
<rect x="1648" y="747" width="1" height="1" fill="#fff" shape-rendering="crispEdges"/>
<rect x="1694" y="19" width="1" height="916" fill="#e3e3e3" shape-rendering="crispEdges"/>
<polygon points="1426,22 1437,22 1431.5,27.5" fill="#c0c0c0"/>
<rect x="1649" y="43" width="2" height="1" fill="#000" shape-rendering="crispEdges"/>
<text transform="translate(1654,46.5) scale(0.92,1)" font-size="10" fill="#000" style="word-spacing:0.5px" >29296.0</text>
<rect x="1649" y="76" width="2" height="1" fill="#000" shape-rendering="crispEdges"/>
<text transform="translate(1654,79.5) scale(0.92,1)" font-size="10" fill="#000" style="word-spacing:0.5px" >28939.0</text>
<rect x="1649" y="109" width="2" height="1" fill="#000" shape-rendering="crispEdges"/>
<text transform="translate(1654,112.5) scale(0.92,1)" font-size="10" fill="#000" style="word-spacing:0.5px" >28571.5</text>
<rect x="1649" y="142" width="2" height="1" fill="#000" shape-rendering="crispEdges"/>
<text transform="translate(1654,145.5) scale(0.92,1)" font-size="10" fill="#000" style="word-spacing:0.5px" >28214.5</text>
<rect x="1649" y="175" width="2" height="1" fill="#000" shape-rendering="crispEdges"/>
<text transform="translate(1654,178.5) scale(0.92,1)" font-size="10" fill="#000" style="word-spacing:0.5px" >27857.5</text>
<rect x="1649" y="208" width="2" height="1" fill="#000" shape-rendering="crispEdges"/>
<text transform="translate(1654,211.5) scale(0.92,1)" font-size="10" fill="#000" style="word-spacing:0.5px" >27490.0</text>
<rect x="1649" y="241" width="2" height="1" fill="#000" shape-rendering="crispEdges"/>
<text transform="translate(1654,244.5) scale(0.92,1)" font-size="10" fill="#000" style="word-spacing:0.5px" >27133.0</text>
<rect x="1649" y="274" width="2" height="1" fill="#000" shape-rendering="crispEdges"/>
<text transform="translate(1654,277.5) scale(0.92,1)" font-size="10" fill="#000" style="word-spacing:0.5px" >26776.0</text>
<rect x="1649" y="307" width="2" height="1" fill="#000" shape-rendering="crispEdges"/>
<text transform="translate(1654,310.5) scale(0.92,1)" font-size="10" fill="#000" style="word-spacing:0.5px" >26408.5</text>
<rect x="1649" y="340" width="2" height="1" fill="#000" shape-rendering="crispEdges"/>
<text transform="translate(1654,343.5) scale(0.92,1)" font-size="10" fill="#000" style="word-spacing:0.5px" >26051.5</text>
<rect x="1649" y="373" width="2" height="1" fill="#000" shape-rendering="crispEdges"/>
<text transform="translate(1654,376.5) scale(0.92,1)" font-size="10" fill="#000" style="word-spacing:0.5px" >25694.5</text>
<rect x="1649" y="406" width="2" height="1" fill="#000" shape-rendering="crispEdges"/>
<text transform="translate(1654,409.5) scale(0.92,1)" font-size="10" fill="#000" style="word-spacing:0.5px" >25337.5</text>
<rect x="1649" y="439" width="2" height="1" fill="#000" shape-rendering="crispEdges"/>
<text transform="translate(1654,442.5) scale(0.92,1)" font-size="10" fill="#000" style="word-spacing:0.5px" >24970.0</text>
<rect x="1649" y="472" width="2" height="1" fill="#000" shape-rendering="crispEdges"/>
<text transform="translate(1654,475.5) scale(0.92,1)" font-size="10" fill="#000" style="word-spacing:0.5px" >24613.0</text>
<rect x="1649" y="505" width="2" height="1" fill="#000" shape-rendering="crispEdges"/>
<text transform="translate(1654,508.5) scale(0.92,1)" font-size="10" fill="#000" style="word-spacing:0.5px" >24245.5</text>
<rect x="1649" y="538" width="2" height="1" fill="#000" shape-rendering="crispEdges"/>
<text transform="translate(1654,541.5) scale(0.92,1)" font-size="10" fill="#000" style="word-spacing:0.5px" >23888.5</text>
<rect x="1649" y="571" width="2" height="1" fill="#000" shape-rendering="crispEdges"/>
<text transform="translate(1654,574.5) scale(0.92,1)" font-size="10" fill="#000" style="word-spacing:0.5px" >23531.5</text>
<rect x="1650" y="355" width="41" height="11" fill="#ff0000" shape-rendering="crispEdges"/>
<text transform="translate(1654,363.70000000000005) scale(0.92,1)" font-size="10" fill="#fff" style="word-spacing:0.5px" >25822.5</text>
<rect x="1650" y="377" width="41" height="11" fill="#ff0000" shape-rendering="crispEdges"/>
<text transform="translate(1654,385.70000000000005) scale(0.92,1)" font-size="10" fill="#fff" style="word-spacing:0.5px" >25582.7</text>
<rect x="1650" y="393" width="41" height="11" fill="#32cd32" shape-rendering="crispEdges"/>
<text transform="translate(1654,401.70000000000005) scale(0.92,1)" font-size="10" fill="#fff" style="word-spacing:0.5px" >25408.2</text>
<rect x="1650" y="404" width="41" height="10" fill="#000" shape-rendering="crispEdges"/>
<text transform="translate(1654,412.6) scale(0.92,1)" font-size="10" fill="#fff" style="word-spacing:0.5px" >25304.0</text>
<rect x="1650" y="423" width="41" height="11" fill="#0000ff" shape-rendering="crispEdges"/>
<text transform="translate(1654,431.70000000000005) scale(0.92,1)" font-size="10" fill="#fff" style="word-spacing:0.5px" >25081.1</text>
<rect x="1650" y="449" width="41" height="11" fill="#0000ff" shape-rendering="crispEdges"/>
<text transform="translate(1654,457.70000000000005) scale(0.92,1)" font-size="10" fill="#fff" style="word-spacing:0.5px" >24797.6</text>
<g clip-path="url(#c2)">
<g shape-rendering="crispEdges">
<rect x="5" y="642" width="1" height="13" fill="#c0c0c0"/>
<rect x="13" y="642" width="1" height="15" fill="#c0c0c0"/>
<rect x="21" y="642" width="1" height="13" fill="#c0c0c0"/>
<rect x="29" y="642" width="1" height="9" fill="#c0c0c0"/>
<rect x="37" y="642" width="1" height="6" fill="#c0c0c0"/>
<rect x="45" y="642" width="1" height="1" fill="#c0c0c0"/>
<rect x="53" y="639" width="1" height="4" fill="#c0c0c0"/>
<rect x="61" y="634" width="1" height="9" fill="#c0c0c0"/>
<rect x="69" y="630" width="1" height="13" fill="#c0c0c0"/>
<rect x="77" y="630" width="1" height="13" fill="#c0c0c0"/>
<rect x="85" y="631" width="1" height="12" fill="#c0c0c0"/>
<rect x="93" y="632" width="1" height="11" fill="#c0c0c0"/>
<rect x="101" y="634" width="1" height="9" fill="#c0c0c0"/>
<rect x="109" y="642" width="1" height="1" fill="#c0c0c0"/>
<rect x="117" y="642" width="1" height="7" fill="#c0c0c0"/>
<rect x="125" y="642" width="1" height="12" fill="#c0c0c0"/>
<rect x="133" y="642" width="1" height="17" fill="#c0c0c0"/>
<rect x="141" y="642" width="1" height="23" fill="#c0c0c0"/>
<rect x="149" y="642" width="1" height="26" fill="#c0c0c0"/>
<rect x="157" y="642" width="1" height="30" fill="#c0c0c0"/>
<rect x="165" y="642" width="1" height="31" fill="#c0c0c0"/>
<rect x="173" y="642" width="1" height="39" fill="#c0c0c0"/>
<rect x="181" y="642" width="1" height="47" fill="#c0c0c0"/>
<rect x="189" y="642" width="1" height="51" fill="#c0c0c0"/>
<rect x="197" y="642" width="1" height="55" fill="#c0c0c0"/>
<rect x="205" y="642" width="1" height="53" fill="#c0c0c0"/>
<rect x="213" y="642" width="1" height="51" fill="#c0c0c0"/>
<rect x="221" y="642" width="1" height="44" fill="#c0c0c0"/>
<rect x="229" y="642" width="1" height="39" fill="#c0c0c0"/>
<rect x="237" y="642" width="1" height="36" fill="#c0c0c0"/>
<rect x="245" y="642" width="1" height="33" fill="#c0c0c0"/>
<rect x="253" y="642" width="1" height="26" fill="#c0c0c0"/>
<rect x="261" y="642" width="1" height="21" fill="#c0c0c0"/>
<rect x="269" y="642" width="1" height="18" fill="#c0c0c0"/>
<rect x="277" y="642" width="1" height="15" fill="#c0c0c0"/>
<rect x="285" y="642" width="1" height="18" fill="#c0c0c0"/>
<rect x="293" y="642" width="1" height="22" fill="#c0c0c0"/>
<rect x="301" y="642" width="1" height="27" fill="#c0c0c0"/>
<rect x="309" y="642" width="1" height="31" fill="#c0c0c0"/>
<rect x="317" y="642" width="1" height="33" fill="#c0c0c0"/>
<rect x="325" y="642" width="1" height="35" fill="#c0c0c0"/>
<rect x="333" y="642" width="1" height="30" fill="#c0c0c0"/>
<rect x="341" y="642" width="1" height="28" fill="#c0c0c0"/>
<rect x="349" y="642" width="1" height="27" fill="#c0c0c0"/>
<rect x="357" y="642" width="1" height="28" fill="#c0c0c0"/>
<rect x="365" y="642" width="1" height="36" fill="#c0c0c0"/>
<rect x="373" y="642" width="1" height="48" fill="#c0c0c0"/>
<rect x="381" y="642" width="1" height="58" fill="#c0c0c0"/>
<rect x="389" y="642" width="1" height="76" fill="#c0c0c0"/>
<rect x="397" y="642" width="1" height="91" fill="#c0c0c0"/>
<rect x="405" y="642" width="1" height="97" fill="#c0c0c0"/>
<rect x="413" y="642" width="1" height="91" fill="#c0c0c0"/>
<rect x="421" y="642" width="1" height="85" fill="#c0c0c0"/>
<rect x="429" y="642" width="1" height="85" fill="#c0c0c0"/>
<rect x="437" y="642" width="1" height="81" fill="#c0c0c0"/>
<rect x="445" y="642" width="1" height="76" fill="#c0c0c0"/>
<rect x="453" y="642" width="1" height="70" fill="#c0c0c0"/>
<rect x="461" y="642" width="1" height="67" fill="#c0c0c0"/>
<rect x="469" y="642" width="1" height="61" fill="#c0c0c0"/>
<rect x="477" y="642" width="1" height="51" fill="#c0c0c0"/>
<rect x="485" y="642" width="1" height="46" fill="#c0c0c0"/>
<rect x="493" y="642" width="1" height="41" fill="#c0c0c0"/>
<rect x="501" y="642" width="1" height="39" fill="#c0c0c0"/>
<rect x="509" y="642" width="1" height="37" fill="#c0c0c0"/>
<rect x="517" y="642" width="1" height="35" fill="#c0c0c0"/>
<rect x="525" y="642" width="1" height="30" fill="#c0c0c0"/>
<rect x="533" y="642" width="1" height="28" fill="#c0c0c0"/>
<rect x="541" y="642" width="1" height="25" fill="#c0c0c0"/>
<rect x="549" y="642" width="1" height="19" fill="#c0c0c0"/>
<rect x="557" y="642" width="1" height="16" fill="#c0c0c0"/>
<rect x="565" y="642" width="1" height="11" fill="#c0c0c0"/>
<rect x="573" y="642" width="1" height="8" fill="#c0c0c0"/>
<rect x="581" y="642" width="1" height="8" fill="#c0c0c0"/>
<rect x="589" y="642" width="1" height="9" fill="#c0c0c0"/>
<rect x="597" y="642" width="1" height="9" fill="#c0c0c0"/>
<rect x="605" y="642" width="1" height="10" fill="#c0c0c0"/>
<rect x="613" y="642" width="1" height="11" fill="#c0c0c0"/>
<rect x="621" y="642" width="1" height="15" fill="#c0c0c0"/>
<rect x="629" y="642" width="1" height="21" fill="#c0c0c0"/>
<rect x="637" y="642" width="1" height="21" fill="#c0c0c0"/>
<rect x="645" y="642" width="1" height="25" fill="#c0c0c0"/>
<rect x="653" y="642" width="1" height="31" fill="#c0c0c0"/>
<rect x="661" y="642" width="1" height="37" fill="#c0c0c0"/>
<rect x="669" y="642" width="1" height="48" fill="#c0c0c0"/>
<rect x="677" y="642" width="1" height="55" fill="#c0c0c0"/>
<rect x="685" y="642" width="1" height="53" fill="#c0c0c0"/>
<rect x="693" y="642" width="1" height="53" fill="#c0c0c0"/>
<rect x="701" y="642" width="1" height="50" fill="#c0c0c0"/>
<rect x="709" y="642" width="1" height="45" fill="#c0c0c0"/>
<rect x="717" y="642" width="1" height="39" fill="#c0c0c0"/>
<rect x="725" y="642" width="1" height="33" fill="#c0c0c0"/>
<rect x="733" y="642" width="1" height="33" fill="#c0c0c0"/>
<rect x="741" y="642" width="1" height="31" fill="#c0c0c0"/>
<rect x="749" y="642" width="1" height="30" fill="#c0c0c0"/>
<rect x="757" y="642" width="1" height="31" fill="#c0c0c0"/>
<rect x="765" y="642" width="1" height="30" fill="#c0c0c0"/>
<rect x="773" y="642" width="1" height="27" fill="#c0c0c0"/>
<rect x="781" y="642" width="1" height="30" fill="#c0c0c0"/>
<rect x="789" y="642" width="1" height="23" fill="#c0c0c0"/>
<rect x="797" y="642" width="1" height="16" fill="#c0c0c0"/>
<rect x="805" y="642" width="1" height="9" fill="#c0c0c0"/>
<rect x="813" y="642" width="1" height="3" fill="#c0c0c0"/>
<rect x="821" y="642" width="1" height="1" fill="#c0c0c0"/>
<rect x="829" y="640" width="1" height="3" fill="#c0c0c0"/>
<rect x="837" y="638" width="1" height="5" fill="#c0c0c0"/>
<rect x="845" y="636" width="1" height="7" fill="#c0c0c0"/>
<rect x="853" y="633" width="1" height="10" fill="#c0c0c0"/>
<rect x="861" y="629" width="1" height="14" fill="#c0c0c0"/>
<rect x="869" y="626" width="1" height="17" fill="#c0c0c0"/>
<rect x="877" y="625" width="1" height="18" fill="#c0c0c0"/>
<rect x="885" y="624" width="1" height="19" fill="#c0c0c0"/>
<rect x="893" y="627" width="1" height="16" fill="#c0c0c0"/>
<rect x="901" y="632" width="1" height="11" fill="#c0c0c0"/>
<rect x="909" y="630" width="1" height="13" fill="#c0c0c0"/>
<rect x="917" y="630" width="1" height="13" fill="#c0c0c0"/>
<rect x="925" y="634" width="1" height="9" fill="#c0c0c0"/>
<rect x="933" y="637" width="1" height="6" fill="#c0c0c0"/>
<rect x="941" y="640" width="1" height="3" fill="#c0c0c0"/>
<rect x="949" y="642" width="1" height="1" fill="#c0c0c0"/>
<rect x="957" y="642" width="1" height="9" fill="#c0c0c0"/>
<rect x="965" y="642" width="1" height="16" fill="#c0c0c0"/>
<rect x="973" y="642" width="1" height="28" fill="#c0c0c0"/>
<rect x="981" y="642" width="1" height="36" fill="#c0c0c0"/>
<rect x="989" y="642" width="1" height="39" fill="#c0c0c0"/>
<rect x="997" y="642" width="1" height="41" fill="#c0c0c0"/>
<rect x="1005" y="642" width="1" height="53" fill="#c0c0c0"/>
<rect x="1013" y="642" width="1" height="59" fill="#c0c0c0"/>
<rect x="1021" y="642" width="1" height="65" fill="#c0c0c0"/>
<rect x="1029" y="642" width="1" height="67" fill="#c0c0c0"/>
<rect x="1037" y="642" width="1" height="65" fill="#c0c0c0"/>
<rect x="1045" y="642" width="1" height="61" fill="#c0c0c0"/>
<rect x="1053" y="642" width="1" height="58" fill="#c0c0c0"/>
<rect x="1061" y="642" width="1" height="58" fill="#c0c0c0"/>
<rect x="1069" y="642" width="1" height="57" fill="#c0c0c0"/>
<rect x="1077" y="642" width="1" height="57" fill="#c0c0c0"/>
<rect x="1085" y="642" width="1" height="51" fill="#c0c0c0"/>
<rect x="1093" y="642" width="1" height="48" fill="#c0c0c0"/>
<rect x="1101" y="642" width="1" height="46" fill="#c0c0c0"/>
<rect x="1109" y="642" width="1" height="41" fill="#c0c0c0"/>
<rect x="1117" y="642" width="1" height="39" fill="#c0c0c0"/>
<rect x="1125" y="642" width="1" height="35" fill="#c0c0c0"/>
<rect x="1133" y="642" width="1" height="38" fill="#c0c0c0"/>
<rect x="1141" y="642" width="1" height="39" fill="#c0c0c0"/>
<rect x="1149" y="642" width="1" height="39" fill="#c0c0c0"/>
<rect x="1157" y="642" width="1" height="39" fill="#c0c0c0"/>
<rect x="1165" y="642" width="1" height="41" fill="#c0c0c0"/>
<rect x="1173" y="642" width="1" height="39" fill="#c0c0c0"/>
<rect x="1181" y="642" width="1" height="33" fill="#c0c0c0"/>
<rect x="1189" y="642" width="1" height="25" fill="#c0c0c0"/>
<rect x="1197" y="642" width="1" height="19" fill="#c0c0c0"/>
<rect x="1205" y="642" width="1" height="13" fill="#c0c0c0"/>
<rect x="1213" y="642" width="1" height="1" fill="#c0c0c0"/>
<rect x="1221" y="635" width="1" height="8" fill="#c0c0c0"/>
<rect x="1229" y="631" width="1" height="12" fill="#c0c0c0"/>
<rect x="1237" y="630" width="1" height="13" fill="#c0c0c0"/>
<rect x="1245" y="628" width="1" height="15" fill="#c0c0c0"/>
<rect x="1253" y="625" width="1" height="18" fill="#c0c0c0"/>
<rect x="1261" y="621" width="1" height="22" fill="#c0c0c0"/>
<rect x="1269" y="619" width="1" height="24" fill="#c0c0c0"/>
<rect x="1277" y="615" width="1" height="28" fill="#c0c0c0"/>
<rect x="1285" y="610" width="1" height="33" fill="#c0c0c0"/>
<rect x="1293" y="605" width="1" height="38" fill="#c0c0c0"/>
<rect x="1301" y="597" width="1" height="46" fill="#c0c0c0"/>
<rect x="1309" y="591" width="1" height="52" fill="#c0c0c0"/>
<rect x="1317" y="588" width="1" height="55" fill="#c0c0c0"/>
<rect x="1325" y="588" width="1" height="55" fill="#c0c0c0"/>
<rect x="1333" y="587" width="1" height="56" fill="#c0c0c0"/>
<rect x="1341" y="586" width="1" height="57" fill="#c0c0c0"/>
<rect x="1349" y="586" width="1" height="57" fill="#c0c0c0"/>
<rect x="1357" y="587" width="1" height="56" fill="#c0c0c0"/>
<rect x="1365" y="588" width="1" height="55" fill="#c0c0c0"/>
<rect x="1373" y="591" width="1" height="52" fill="#c0c0c0"/>
<rect x="1381" y="603" width="1" height="40" fill="#c0c0c0"/>
<rect x="1389" y="608" width="1" height="35" fill="#c0c0c0"/>
<rect x="1397" y="612" width="1" height="31" fill="#c0c0c0"/>
<rect x="1405" y="618" width="1" height="25" fill="#c0c0c0"/>
<rect x="1413" y="624" width="1" height="19" fill="#c0c0c0"/>
<rect x="1421" y="630" width="1" height="13" fill="#c0c0c0"/>
</g>
<polyline points="0.0,652.5 12.5,653.8 25.0,653.2 37.5,652.0 50.0,650.5 62.5,648.0 72.5,643.8 85.0,639.5 97.5,636.2 110.0,634.5 122.5,636.2 135.0,639.5 145.0,644.5 155.0,650.0 165.0,657.0 175.0,664.5 185.0,670.0 195.0,675.8 205.0,681.2 212.5,684.5 222.5,686.5 232.5,687.2 245.0,687.0 255.0,683.8 265.0,679.5 275.0,674.5 285.0,670.0 295.0,667.0 305.0,665.5 320.0,665.5 332.5,667.0 342.5,667.5 352.5,669.5 362.5,670.8 375.0,673.2 385.0,678.0 395.0,685.5 405.0,695.0 415.0,704.5 420.0,709.2 427.5,713.8 435.0,720.0 445.0,723.0 455.0,725.0 465.0,723.0 475.0,717.5 485.0,711.2 495.0,704.5 505.0,698.0 517.5,690.8 530.0,683.8 542.5,677.5 555.0,672.0 567.5,667.0 580.0,662.0 595.0,656.8 610.0,653.8 622.5,652.5 632.5,653.8 645.0,656.2 657.5,659.5 670.0,666.2 680.0,672.5 690.0,678.8 700.0,683.0 710.0,685.5 722.5,687.2 735.0,686.2 747.5,683.8 757.5,680.8 770.0,675.5 782.5,673.0 795.0,670.0 807.5,665.8 820.0,661.2 832.5,655.0 840.0,650.5 850.0,646.2 860.0,641.2 870.0,637.5 880.0,633.8 887.5,630.8 900.0,629.2 915.0,627.5 927.5,628.2 940.0,629.5 950.0,633.2 962.5,637.5 975.0,644.5 985.0,651.2 995.0,657.5 1005.0,666.2 1015.0,675.0 1025.0,682.5 1035.0,690.8 1045.0,694.2 1055.0,698.8 1067.5,702.0 1080.0,701.8 1092.5,699.5 1105.0,695.0 1117.5,692.5 1127.5,688.8 1140.0,685.5 1152.5,682.5 1165.0,681.2 1177.5,679.5 1190.0,677.5 1202.5,674.5 1212.5,669.5 1222.5,663.8 1232.5,655.5 1242.5,647.5 1252.5,642.0 1260.0,636.7 1270.3,630.3 1280.5,625.2 1290.8,620.0 1301.1,617.0 1310.0,610.5 1321.6,604.6 1331.9,599.5 1342.1,594.4 1352.4,591.8 1362.7,588.5 1372.9,587.5 1383.2,588.0 1393.4,591.3 1403.7,594.9 1414.0,599.5 1420.4,604.1" fill="none" stroke="#ff0000" stroke-width="1" shape-rendering="crispEdges" stroke-dasharray="3 3"/>
<line x1="1362" y1="591" x2="1430" y2="625.5" stroke="#f00" stroke-width="2.9"/>
<polygon points="1436.5,629 1424.5,628.5 1428,620" fill="#f00"/>
</g>
<text transform="translate(1652,586.5) scale(0.92,1)" font-size="10" fill="#000" style="word-spacing:0.5px" >443.46</text>
<text transform="translate(1652,645.5) scale(0.92,1)" font-size="10" fill="#000" style="word-spacing:0.5px" >0.00</text>
<text transform="translate(1652,742.5) scale(0.92,1)" font-size="10" fill="#000" style="word-spacing:0.5px" >-706.76</text>
<rect x="1649" y="578" width="1" height="1" fill="#000" shape-rendering="crispEdges"/>
<text transform="translate(-6.4,589) scale(0.935,1)" font-size="10" fill="#000" style="word-spacing:0.5px" >MACD(12,26,9) 92.99 253.66</text>
<g clip-path="url(#c3)">
<line x1="-4" y1="784.5" x2="1648" y2="784.5" stroke="#c0c0c0" stroke-width="1" stroke-dasharray="3 3" shape-rendering="crispEdges"/>
<line x1="-4" y1="835.5" x2="1648" y2="835.5" stroke="#c0c0c0" stroke-width="1" stroke-dasharray="3 3" shape-rendering="crispEdges"/>
<line x1="-4" y1="896.5" x2="1648" y2="896.5" stroke="#c0c0c0" stroke-width="1" stroke-dasharray="3 3" shape-rendering="crispEdges"/>
<polyline points="-3.0,845.2 5.5,847.0 13.5,856.2 21.5,832.5 29.5,829.5 37.5,826.2 45.5,825.0 53.5,815.5 61.5,813.2 69.5,813.2 77.5,825.8 85.5,830.5 93.5,830.5 101.5,840.0 109.5,858.2 117.5,860.2 125.5,861.2 133.5,862.0 141.5,869.2 149.5,865.2 157.5,868.5 165.5,864.2 173.5,879.2 181.5,884.2 189.5,874.5 197.5,874.5 205.5,861.2 213.5,858.2 221.5,837.0 229.5,841.2 237.5,846.2 245.5,844.2 253.5,830.5 261.5,835.0 269.5,832.0 277.5,835.5 285.5,853.0 293.5,854.5 301.5,862.5 309.5,859.2 317.5,862.5 325.5,856.2 333.5,837.5 341.5,837.5 349.5,846.2 357.5,851.2 365.5,868.8 373.5,875.0 381.5,877.5 389.5,888.2 397.5,888.2 405.5,875.0 413.5,853.8 421.5,850.0 429.5,858.2 437.5,853.8 445.5,847.5 453.5,847.5 461.5,851.2 469.5,847.0 477.5,835.5 485.5,839.2 493.5,841.2 501.5,845.5 509.5,844.2 517.5,845.5 525.5,837.5 533.5,841.2 541.5,840.0 549.5,833.0 557.5,831.2 565.5,831.2 573.5,831.2 581.5,837.5 589.5,843.2 597.5,839.2 605.5,845.5 613.5,848.2 621.5,852.0 629.5,861.2 637.5,852.5 645.5,855.8 653.5,866.2 661.5,869.2 669.5,879.2 677.5,875.0 685.5,853.2 693.5,858.2 701.5,843.8 709.5,840.5 717.5,840.5 725.5,838.2 733.5,848.2 741.5,845.5 749.5,844.5 757.5,850.0 765.5,846.2 773.5,843.2 781.5,853.2 789.5,831.2 797.5,826.2 805.5,826.2 813.5,824.2 821.5,823.2 829.5,829.2 837.5,830.5 845.5,825.5 853.5,821.8 861.5,817.5 869.5,817.5 877.5,823.2 885.5,820.0 893.5,835.5 901.5,844.2 909.5,827.0 917.5,826.2 925.5,843.2 933.5,838.2 941.5,839.5 949.5,849.5 957.5,854.2 965.5,860.0 973.5,870.5 981.5,865.0 989.5,860.8 997.5,856.8 1005.5,874.5 1013.5,869.2 1021.5,870.5 1029.5,863.8 1037.5,856.2 1045.5,851.2 1053.5,852.5 1061.5,859.5 1069.5,856.2 1077.5,858.2 1085.5,845.5 1093.5,847.5 1101.5,850.8 1109.5,843.2 1117.5,846.8 1125.5,842.5 1133.5,857.5 1141.5,857.5 1149.5,852.5 1157.5,853.8 1165.5,856.8 1173.5,855.2 1181.5,833.0 1189.5,829.2 1197.5,831.8 1205.5,823.2 1213.5,810.0 1221.5,812.0 1229.5,822.5 1237.5,827.5 1245.5,825.0 1253.5,820.0 1261.5,814.8 1269.5,820.2 1277.5,813.0 1285.5,807.4 1293.5,805.3 1301.5,798.4 1309.5,797.1 1317.5,802.0 1325.5,806.1 1333.5,804.5 1341.5,803.5 1349.5,802.2 1357.5,802.2 1365.5,809.2 1373.5,809.2 1381.5,834.3 1389.5,834.1 1397.5,836.1 1405.5,842.0 1413.5,842.5 1421.5,846.1" fill="none" stroke="#1e90ff" stroke-width="1" shape-rendering="crispEdges" />
<line x1="1352" y1="793" x2="1416.5" y2="846" stroke="#f00" stroke-width="2.9"/>
<polygon points="1420.4,849.6 1409.4,846.2 1414.8,838.4" fill="#f00"/>
</g>
<text transform="translate(1652,758.8) scale(0.92,1)" font-size="10" fill="#000" style="word-spacing:0.5px" >100</text>
<text transform="translate(1652,787.8) scale(0.92,1)" font-size="10" fill="#000" style="word-spacing:0.5px" >80</text>
<text transform="translate(1652,837.8) scale(0.92,1)" font-size="10" fill="#000" style="word-spacing:0.5px" >50</text>
<text transform="translate(1652,898.8) scale(0.92,1)" font-size="10" fill="#000" style="word-spacing:0.5px" >15</text>
<text transform="translate(1652,917.8) scale(0.92,1)" font-size="10" fill="#000" style="word-spacing:0.5px" >0</text>
<text transform="translate(-6.9,761) scale(0.92,1)" font-size="10" fill="#000" style="word-spacing:0.5px" >RSI(14) 43.3877</text>
<rect x="-11" y="923" width="1" height="3" fill="#000" shape-rendering="crispEdges"/>
<text transform="translate(-11.5,935) scale(0.897,1)" font-size="10" fill="#000" style="word-spacing:0.5px" >21 Jun 2021</text>
<rect x="53" y="923" width="1" height="3" fill="#000" shape-rendering="crispEdges"/>
<text transform="translate(52.5,935) scale(0.897,1)" font-size="10" fill="#000" style="word-spacing:0.5px" >25 Jun 01:15</text>
<rect x="117" y="923" width="1" height="3" fill="#000" shape-rendering="crispEdges"/>
<text transform="translate(116.5,935) scale(0.897,1)" font-size="10" fill="#000" style="word-spacing:0.5px" >2 Jul 05:00</text>
<rect x="181" y="923" width="1" height="3" fill="#000" shape-rendering="crispEdges"/>
<text transform="translate(180.5,935) scale(0.897,1)" font-size="10" fill="#000" style="word-spacing:0.5px" >8 Jul 05:00</text>
<rect x="245" y="923" width="1" height="3" fill="#000" shape-rendering="crispEdges"/>
<text transform="translate(244.5,935) scale(0.897,1)" font-size="10" fill="#000" style="word-spacing:0.5px" >14 Jul 05:00</text>
<rect x="309" y="923" width="1" height="3" fill="#000" shape-rendering="crispEdges"/>
<text transform="translate(308.5,935) scale(0.897,1)" font-size="10" fill="#000" style="word-spacing:0.5px" >20 Jul 05:00</text>
<rect x="373" y="923" width="1" height="3" fill="#000" shape-rendering="crispEdges"/>
<text transform="translate(372.5,935) scale(0.897,1)" font-size="10" fill="#000" style="word-spacing:0.5px" >26 Jul 05:00</text>
<rect x="437" y="923" width="1" height="3" fill="#000" shape-rendering="crispEdges"/>
<text transform="translate(436.5,935) scale(0.897,1)" font-size="10" fill="#000" style="word-spacing:0.5px" >30 Jul 05:00</text>
<rect x="501" y="923" width="1" height="3" fill="#000" shape-rendering="crispEdges"/>
<text transform="translate(500.5,935) scale(0.897,1)" font-size="10" fill="#000" style="word-spacing:0.5px" >5 Aug 05:00</text>
<rect x="565" y="923" width="1" height="3" fill="#000" shape-rendering="crispEdges"/>
<text transform="translate(564.5,935) scale(0.897,1)" font-size="10" fill="#000" style="word-spacing:0.5px" >11 Aug 05:00</text>
<rect x="629" y="923" width="1" height="3" fill="#000" shape-rendering="crispEdges"/>
<text transform="translate(628.5,935) scale(0.897,1)" font-size="10" fill="#000" style="word-spacing:0.5px" >17 Aug 05:00</text>
<rect x="693" y="923" width="1" height="3" fill="#000" shape-rendering="crispEdges"/>
<text transform="translate(692.5,935) scale(0.897,1)" font-size="10" fill="#000" style="word-spacing:0.5px" >23 Aug 05:00</text>
<rect x="757" y="923" width="1" height="3" fill="#000" shape-rendering="crispEdges"/>
<text transform="translate(756.5,935) scale(0.897,1)" font-size="10" fill="#000" style="word-spacing:0.5px" >27 Aug 05:00</text>
<rect x="821" y="923" width="1" height="3" fill="#000" shape-rendering="crispEdges"/>
<text transform="translate(820.5,935) scale(0.897,1)" font-size="10" fill="#000" style="word-spacing:0.5px" >2 Sep 05:00</text>
<rect x="885" y="923" width="1" height="3" fill="#000" shape-rendering="crispEdges"/>
<text transform="translate(884.5,935) scale(0.897,1)" font-size="10" fill="#000" style="word-spacing:0.5px" >8 Sep 05:00</text>
<rect x="949" y="923" width="1" height="3" fill="#000" shape-rendering="crispEdges"/>
<text transform="translate(948.5,935) scale(0.897,1)" font-size="10" fill="#000" style="word-spacing:0.5px" >14 Sep 05:00</text>
<rect x="1013" y="923" width="1" height="3" fill="#000" shape-rendering="crispEdges"/>
<text transform="translate(1012.5,935) scale(0.897,1)" font-size="10" fill="#000" style="word-spacing:0.5px" >20 Sep 05:00</text>
<rect x="1077" y="923" width="1" height="3" fill="#000" shape-rendering="crispEdges"/>
<text transform="translate(1076.5,935) scale(0.897,1)" font-size="10" fill="#000" style="word-spacing:0.5px" >27 Sep 05:00</text>
<rect x="1141" y="923" width="1" height="3" fill="#000" shape-rendering="crispEdges"/>
<text transform="translate(1140.5,935) scale(0.897,1)" font-size="10" fill="#000" style="word-spacing:0.5px" >4 Oct 05:00</text>
<rect x="1205" y="923" width="1" height="3" fill="#000" shape-rendering="crispEdges"/>
<text transform="translate(1204.5,935) scale(0.897,1)" font-size="10" fill="#000" style="word-spacing:0.5px" >8 Oct 05:00</text>
<rect x="1269" y="923" width="1" height="3" fill="#000" shape-rendering="crispEdges"/>
<text transform="translate(1268.5,935) scale(0.897,1)" font-size="10" fill="#000" style="word-spacing:0.5px" >18 Oct 01:15</text>
<rect x="1333" y="923" width="1" height="3" fill="#000" shape-rendering="crispEdges"/>
<text transform="translate(1332.5,935) scale(0.897,1)" font-size="10" fill="#000" style="word-spacing:0.5px" >22 Oct 01:15</text>
<rect x="1397" y="923" width="1" height="3" fill="#000" shape-rendering="crispEdges"/>
<text transform="translate(1396.5,935) scale(0.897,1)" font-size="10" fill="#000" style="word-spacing:0.5px" >28 Oct 01:15</text>
<text transform="translate(4.2,33) scale(0.92,1)" font-size="10" fill="#000" style="word-spacing:0.5px" >HK50-,H4</text>
<text transform="translate(51.3,33) scale(0.92,1)" font-size="10" fill="#000" style="word-spacing:0.5px" >25378.0 25431.0 25281.0 25304.0</text>
<defs>
<linearGradient id="gt" x1="0" y1="0" x2="0" y2="1"><stop offset="0" stop-color="#fa5050"/><stop offset="1" stop-color="#e23030"/></linearGradient>
<linearGradient id="gb" x1="0" y1="0" x2="0" y2="1"><stop offset="0" stop-color="#d62626"/><stop offset="0.6" stop-color="#c61818"/><stop offset="1" stop-color="#ae0202"/></linearGradient>
<linearGradient id="gs" x1="0" y1="0" x2="0" y2="1"><stop offset="0" stop-color="#f0f0f0"/><stop offset="0.5" stop-color="#e2e2e2"/><stop offset="0.5" stop-color="#d0d0d0"/><stop offset="1" stop-color="#cacaca"/></linearGradient>
</defs>
<g id="panel">
<rect x="0" y="40" width="212.5" height="60" fill="#fff"/>
<rect x="0" y="41" width="44" height="25" fill="url(#gt)"/>
<rect x="0" y="65" width="101" height="33" fill="url(#gb)"/>
<rect x="0" y="41" width="44" height="1" fill="#d83030"/>
<rect x="0" y="64" width="40" height="1" fill="#a40808"/><rect x="0" y="65" width="40" height="1" fill="#ec5858"/>
<rect x="43.2" y="41" width="0.8" height="24" fill="#d02020"/>
<rect x="159" y="41" width="52" height="25" fill="url(#gt)"/>
<rect x="103" y="65" width="108" height="33" fill="url(#gb)"/>
<rect x="159" y="41" width="52" height="1" fill="#d83030"/>
<rect x="163" y="64" width="44" height="1" fill="#a40808"/><rect x="163" y="65" width="44" height="1" fill="#ec5858"/>
<rect x="0" y="97" width="101" height="1" fill="#a00000"/><rect x="103" y="97" width="108" height="1" fill="#a00000"/>
<rect x="46.5" y="41.5" width="110" height="21" fill="#fff" stroke="#a8acb4" stroke-width="1"/>
<rect x="47.5" y="42.5" width="19.5" height="19" fill="url(#gs)"/><rect x="67" y="42" width="1" height="20" fill="#a8acb4"/>
<rect x="136" y="42.5" width="19.5" height="19" fill="url(#gs)"/><rect x="135" y="42" width="1" height="20" fill="#a8acb4"/>
<polygon points="54,50 59,50 56.5,53" fill="#4458b0"/>
<polygon points="143,53 148,53 145.5,50" fill="#4458b0"/>
<text x="108.6" y="55.8" font-size="12" fill="#101010" textLength="23.2" lengthAdjust="spacingAndGlyphs">1.00</text>
<text x="4.3" y="56.7" font-size="13.2" fill="#fff" textLength="25.6" lengthAdjust="spacingAndGlyphs">SELL</text>
<text x="172.5" y="56.7" font-size="13.2" fill="#fff" textLength="23.2" lengthAdjust="spacingAndGlyphs">BUY</text>
<text x="8.2" y="92.8" font-size="12" font-weight="bold" fill="#fff" textLength="34.2" lengthAdjust="spacingAndGlyphs">25302</text>
<text x="118.1" y="92.8" font-size="12" font-weight="bold" fill="#fff" textLength="34.2" lengthAdjust="spacingAndGlyphs">25315</text>
<rect x="47.6" y="89.1" width="4" height="3.9" rx="1.3" fill="#fff"/><rect x="158.2" y="89.1" width="4" height="3.9" rx="1.3" fill="#fff"/>
<text x="54.8" y="93.2" font-size="35.2" fill="#fff" textLength="14.6" lengthAdjust="spacingAndGlyphs">5</text>
<text x="165.4" y="93.2" font-size="35.2" fill="#fff" textLength="14.6" lengthAdjust="spacingAndGlyphs">5</text>
</g>
<g id="tb">
<rect x="0" y="0" width="1695" height="17" fill="#f0f0f0"/>
<rect x="0" y="16" width="1695" height="1" fill="#e4e4e4"/>
<rect x="0" y="17" width="1695" height="1" fill="#b4b4b4"/>
<rect x="0" y="18" width="1695" height="1" fill="#6e6e6e"/>
<rect x="0" y="19" width="1695" height="2" fill="#fff"/>
<clipPath id="ctb"><rect x="0" y="0" width="1695" height="17"/></clipPath>
<g clip-path="url(#ctb)">
<path d="M0 2.2L1.8 3.6L0 5" stroke="#333" stroke-width="1" fill="none"/><circle cx="0" cy="13" r="1.6" fill="#c89020"/>
<rect x="9" y="0" width="1" height="14.6" fill="#a0a0a0"/>
<path d="M19.5 0V9.8Q19.5 10.6 20.5 10.6H30.5V0Z" fill="#fff" stroke="#8a8a8a" stroke-width="0.9"/>
<path d="M21.5 2H28M21.5 4H28M21.5 6H25" stroke="#9a9a9a" stroke-width="0.8"/>
<path d="M29.3 3.3V14.3M23.8 8.8H34.8" stroke="#0a8a0a" stroke-width="4.2"/>
<path d="M29.3 4V13.6M24.5 8.8H34.1" stroke="#32d232" stroke-width="2.6"/>
<g stroke="#151515" stroke-width="1.1" fill="none">
<path d="M38 3.2H44.5M41.2 0V8.2M39 5.2L38.2 7.6M43.4 5.2L44.2 7.4M38 0.8H44.5"/>
<path d="M45.6 0V4Q45.6 7 44.6 8.4M45.6 2.5H49.6M47.8 2.5V8.6"/>
<path d="M51 0.5H52.6V6.6L54.2 5.2M57.8 0V7.4Q57.8 8.6 55.6 8.2M54.5 0.4H60.6"/>
<path d="M63.6 0V4.2H71.8V0M63.6 2H71.8M62 6.5H73.5M67.7 0V9.2"/>
</g>
<path d="M86.5 6.8L93 0H96L101.6 6L94.4 12.6Z" fill="#d9a520" stroke="#a87810" stroke-width="0.8"/>
<path d="M89 6.5L94 1.5L99 6L94.3 10.5Z" fill="#f3cf4a"/>
<path d="M87 7.8L94.4 13.6L101.6 7" stroke="#8a6410" stroke-width="1" fill="none"/>
<rect x="116.5" y="0" width="9.5" height="6" fill="#2a8af0"/><rect x="119" y="0" width="1.2" height="6" fill="#cfe6ff"/>
<path d="M115 11.5Q113.8 8.6 117 8Q118 5 121.5 5.6Q124 3.6 126.4 6.6Q130.2 6.6 129.6 10Q129.6 12.4 127 12.4H117Q115.4 12.4 115 11.5Z" fill="#dfe6f2" stroke="#8ca0c8" stroke-width="0.9"/>
<circle cx="150" cy="5" r="7.2" fill="none" stroke="#8aa6d8" stroke-width="1.4"/><circle cx="150" cy="5" r="4.4" fill="none" stroke="#5a86d0" stroke-width="1.4"/><circle cx="150" cy="4.6" r="1.8" fill="#2a60d0"/>
<path d="M150.4 5V12.6Q156.5 11.6 157.4 5" fill="#9ccf9c" fill-opacity="0.75" stroke="none"/><path d="M150.4 5V12.8" stroke="#1ea01e" stroke-width="1.5"/>
<ellipse cx="177.4" cy="1.2" rx="8" ry="3.2" fill="#58b4e8" stroke="#2a7cc0" stroke-width="0.8"/>
<path d="M169.8 4.6H184.6L182 9L176.8 12.6Z" fill="#f2d038" stroke="#c09a18" stroke-width="0.8"/>
<circle cx="181.6" cy="8.6" r="4.1" fill="#d82a14"/><rect x="180" y="7" width="3.2" height="3.2" fill="#fff"/>
<g stroke="#151515" stroke-width="1.1" fill="none">
<path d="M191.8 0V7.9H199.8V0M191.8 1.2H199.8M191.8 4.5H199.8" stroke-width="1.2"/>
<path d="M202.4 1.6H207.4M203.4 3.6L202.8 6.8L206.6 6.2M206.2 4.2L207.4 7.6M209.2 0.8H213.4V7.2Q213.4 8.6 211.4 8.2M210.8 0.8Q210.8 6 208.4 8.4"/>
<path d="M215 0.6H225.6M218.4 1.6L216.6 3.8M222.2 1.6L224.2 3.8M222.8 3.4Q220.4 7.4 215.2 8.6M217.6 3.6Q220.6 7.6 225.8 8.6"/>
<path d="M229.6 0V2H235.8V0M229.6 0.4H235.8M229.4 3.4H237M229.4 3.4Q228.6 5 227.4 5.8M237 3.4V7.2Q237 8.6 235 8.2M231.6 3.6Q230.6 6.4 228.2 8M234.2 3.6Q233.2 6.8 231 8.4"/>
</g>
<rect x="245" y="0" width="1" height="17" fill="#8c8c8c"/><rect x="246" y="0" width="1" height="17" fill="#fff"/>
<rect x="249.2" y="1" width="3" height="1" fill="#b0b0b0"/>
<rect x="249.2" y="3" width="3" height="1" fill="#b0b0b0"/>
<rect x="249.2" y="5" width="3" height="1" fill="#b0b0b0"/>
<rect x="249.2" y="7" width="3" height="1" fill="#b0b0b0"/>
<rect x="249.2" y="9" width="3" height="1" fill="#b0b0b0"/>
<rect x="249.2" y="11" width="3" height="1" fill="#b0b0b0"/>
<rect x="249.2" y="13" width="3" height="1" fill="#b0b0b0"/>
<path d="M263.4 0V12.7M261.09999999999997 10.5H273.9" stroke="#505050" stroke-width="1.2" fill="none"/><polygon points="275.2,10.5 272.59999999999997,9 272.59999999999997,12" fill="#505050"/><circle cx="263.4" cy="0.3" r="1" fill="#505050"/>
<path d="M269.6 0V7.7M267.2 7.5H269.6M269.6 1.6H272" stroke="#0a8a0a" stroke-width="1.3" fill="none"/>
<rect x="284.5" y="0" width="24.19999999999999" height="15.5" fill="#f8f8f8"/><rect x="283.5" y="0" width="1" height="14.6" fill="#8c8c8c"/>
<path d="M291.4 0V12.7M289.09999999999997 10.5H301.9" stroke="#505050" stroke-width="1.2" fill="none"/><polygon points="303.2,10.5 300.59999999999997,9 300.59999999999997,12" fill="#505050"/><circle cx="291.4" cy="0.3" r="1" fill="#505050"/>
<rect x="295.2" y="-1" width="4.8" height="7.4" fill="#22cc22" stroke="#0a8a0a" stroke-width="0.9"/><path d="M297.6 6.4V8.8" stroke="#0a8a0a" stroke-width="1.3"/>
<path d="M319.4 0V12.7M317.09999999999997 10.5H329.9" stroke="#505050" stroke-width="1.2" fill="none"/><polygon points="331.2,10.5 328.59999999999997,9 328.59999999999997,12" fill="#505050"/><circle cx="319.4" cy="0.3" r="1" fill="#505050"/>
<path d="M318 7.7Q321 5.8 322.6 3.6Q324.2 1.6 325.6 2.8Q327.6 5 329.8 6.4" stroke="#0a8a0a" stroke-width="1.2" fill="none"/>
<rect x="340" y="0" width="1" height="14.6" fill="#a0a0a0"/>
<path d="M358.5 7.3L363.9 11.9" stroke="#9c7a10" stroke-width="3.2" stroke-linecap="round"/><path d="M358.7 7.3L363.7 11.6" stroke="#e8c830" stroke-width="1.8" stroke-linecap="round"/>
<circle cx="354.7" cy="2.7" r="5.2" fill="#cfe4fa" stroke="#2a6cc0" stroke-width="1.2"/>
<path d="M351.7 2.9H357.7" stroke="#2a5cb0" stroke-width="1.5"/>
<path d="M354.7 0V5.8" stroke="#2a5cb0" stroke-width="1.5"/>
<path d="M386.8 7.3L392.2 11.9" stroke="#9c7a10" stroke-width="3.2" stroke-linecap="round"/><path d="M387 7.3L392 11.6" stroke="#e8c830" stroke-width="1.8" stroke-linecap="round"/>
<circle cx="383" cy="2.7" r="5.2" fill="#cfe4fa" stroke="#2a6cc0" stroke-width="1.2"/>
<path d="M380 2.9H386" stroke="#2a5cb0" stroke-width="1.5"/>
<rect x="405.3" y="-3.2" width="7.4" height="7.4" fill="#3aa020"/><rect x="406.5" y="-0.20000000000000018" width="5" height="3.4" fill="#fff"/><rect x="407.5" y="0.7999999999999998" width="3" height="0.9" fill="#3aa020" fill-opacity="0.6"/>
<rect x="413.6" y="-3.2" width="7.4" height="7.4" fill="#2a5cd8"/><rect x="414.8" y="-0.20000000000000018" width="5" height="3.4" fill="#fff"/><rect x="415.8" y="0.7999999999999998" width="3" height="0.9" fill="#2a5cd8" fill-opacity="0.6"/>
<rect x="405.3" y="5.3" width="7.4" height="7.4" fill="#2a5cd8"/><rect x="406.5" y="8.3" width="5" height="3.4" fill="#fff"/><rect x="407.5" y="9.3" width="3" height="0.9" fill="#2a5cd8" fill-opacity="0.6"/>
<rect x="413.6" y="5.3" width="7.4" height="7.4" fill="#3aa020"/><rect x="414.8" y="8.3" width="5" height="3.4" fill="#fff"/><rect x="415.8" y="9.3" width="3" height="0.9" fill="#3aa020" fill-opacity="0.6"/>
<rect x="430" y="0" width="1" height="14.6" fill="#a0a0a0"/>
<rect x="436" y="0" width="23.80000000000001" height="15.5" fill="#f8f8f8"/><rect x="435" y="0" width="1" height="14.6" fill="#8c8c8c"/>
<path d="M443.3 0V12.7M441.0 10.5H453.8" stroke="#505050" stroke-width="1.2" fill="none"/><polygon points="455.1,10.5 452.5,9 452.5,12" fill="#505050"/><circle cx="443.3" cy="0.3" r="1" fill="#505050"/>
<polygon points="448.2,1.2 448.2,7.8 452,4.5" fill="#3ad03a" stroke="#0a8a0a" stroke-width="0.8"/>
<rect x="464" y="0" width="24" height="15.5" fill="#f8f8f8"/><rect x="463" y="0" width="1" height="14.6" fill="#8c8c8c"/>
<path d="M471.3 0V12.7M469.0 10.5H481.8" stroke="#505050" stroke-width="1.2" fill="none"/><polygon points="483.1,10.5 480.5,9 480.5,12" fill="#505050"/><circle cx="471.3" cy="0.3" r="1" fill="#505050"/>
<path d="M477.4 0V8.8" stroke="#1a6aa8" stroke-width="1.3"/><path d="M478.6 4.6H483" stroke="#d84a00" stroke-width="1.2"/><polygon points="478.4,4.6 481.4,2.6 481.4,6.6" fill="#d84a00"/>
<rect x="492" y="0" width="1" height="14.6" fill="#a0a0a0"/>
<path d="M502.5 0V9.8Q502.5 10.6 503.5 10.6H513.8V0Z" fill="#fff" stroke="#8a8a8a" stroke-width="0.9"/><path d="M505.8 0V6.4M505 1.6H507M505 4.4H507" stroke="#555" stroke-width="0.9"/>
<path d="M512.2 3V14.6M506.4 8.8H518" stroke="#0a8a0a" stroke-width="4.2"/><path d="M512.2 3.7V13.9M507.1 8.8H517.3" stroke="#32d232" stroke-width="2.6"/>
<polygon points="523.6,4.2 529.1999999999999,4.2 526.4,7.4" fill="#000"/>
<circle cx="547.9" cy="5" r="7.2" fill="#fafafa" stroke="#1a6ad0" stroke-width="2.2"/><path d="M547.9 5V1M547.9 5L550.6 5.6" stroke="#333" stroke-width="1.1"/><path d="M546.4 9.2Q548 10 549.6 9.2" stroke="#6aa8f0" stroke-width="0.8" fill="none"/>
<polygon points="562.7,4.2 568.3,4.2 565.5,7.4" fill="#000"/>
<rect x="579.4" y="-1" width="15.6" height="12.6" fill="#fff" stroke="#3a78c8" stroke-width="1.3"/><rect x="579.4" y="5.6" width="15.6" height="1.2" fill="#3a78c8"/>
<path d="M581.2 4.4L583.4 3.6L585.6 2.4L587.8 3.2L590.4 3.4L593 2.2" stroke="#a82010" stroke-width="1.1" fill="none"/><path d="M582 9.6L584.4 8.6L586.4 9.4L589.8 7.4L592.6 9.8" stroke="#129a12" stroke-width="1.1" fill="none"/>
<polygon points="601.8000000000001,4.2 607.4,4.2 604.6,7.4" fill="#000"/>
<rect x="613" y="0" width="1" height="17" fill="#8c8c8c"/><rect x="614" y="0" width="1" height="17" fill="#fff"/>
<rect x="616.8" y="1" width="3" height="1" fill="#b0b0b0"/>
<rect x="616.8" y="3" width="3" height="1" fill="#b0b0b0"/>
<rect x="616.8" y="5" width="3" height="1" fill="#b0b0b0"/>
<rect x="616.8" y="7" width="3" height="1" fill="#b0b0b0"/>
<rect x="616.8" y="9" width="3" height="1" fill="#b0b0b0"/>
<rect x="616.8" y="11" width="3" height="1" fill="#b0b0b0"/>
<rect x="616.8" y="13" width="3" height="1" fill="#b0b0b0"/>
<rect x="624.2" y="0" width="23.799999999999955" height="15.5" fill="#f8f8f8"/><rect x="623.2" y="0" width="1" height="14.6" fill="#8c8c8c"/>
<polygon points="631.4,-1 631.4,8.9 633.9,7.2 636.2,12 637.8,11.2 635.7,6.6 639.2,5.5 632.6,-1" fill="#505050"/>
<path d="M656 5.5H662.2M664.8 5.5H671M663.5 0V4.2M663.5 6.8V12.7" stroke="#505050" stroke-width="1.3"/><rect x="663" y="5" width="1" height="1" fill="#505050"/>
<rect x="680" y="0" width="1" height="14.6" fill="#a0a0a0"/>
<path d="M697.4 0V11.9" stroke="#505050" stroke-width="1.2"/>
<path d="M720 5.5H732.2" stroke="#505050" stroke-width="1.2"/>
<path d="M747.7 11.9L759.9 0" stroke="#505050" stroke-width="1.2"/>
<path d="M774 7L781.8 0M775.8 11.6L788 2.4M776.2 5.2V9.8M778.4 3V8.6M780.6 1V6.6M782.8 0V4.6M785 0V3.2M777 8.4L779.6 4M779.4 6.6L782.2 2.2" stroke="#505050" stroke-width="0.9" fill="none"/>
<text x="784.6" y="13.8" font-size="6.6" font-weight="bold" fill="#333">E</text>
<path d="M802.9 1.4H816" stroke="#505050" stroke-width="1" stroke-dasharray="1 1"/>
<path d="M802.9 5.5H816" stroke="#505050" stroke-width="1" stroke-dasharray="1 1"/>
<path d="M802.9 9.6H816" stroke="#505050" stroke-width="1" stroke-dasharray="1 1"/>
<rect x="811.5" y="8.6" width="6" height="3" fill="#f0f0f0"/>
<text x="812.6" y="13.8" font-size="6.6" font-weight="bold" fill="#333">F</text>
<text x="833.4" y="10" font-size="12.4" fill="#505050" stroke="#505050" stroke-width="0.5" textLength="8.4" lengthAdjust="spacingAndGlyphs">A</text>
<rect x="860.5" y="1.5" width="11" height="10.4" fill="none" stroke="#505050" stroke-width="1" stroke-dasharray="1 1"/>
<text x="862.2" y="10" font-size="11" fill="#505050" stroke="#505050" stroke-width="0.6" textLength="7.6" lengthAdjust="spacingAndGlyphs">T</text>
<polygon points="887.2,2.9 894.2,2.9 890.7,-0.6" fill="#505050"/><rect x="889.3" y="2.6" width="2.8" height="1" fill="#505050"/>
<path d="M889.4 6.6L891.8 8.2L895.8 3.6" stroke="#505050" stroke-width="1.2" fill="none"/>
<polygon points="894,8 901.2,8 897.6,12" fill="#505050"/><rect x="896.2" y="6.8" width="2.8" height="1.4" fill="#505050"/>
<polygon points="907.8000000000001,4.2 913.4,4.2 910.6,7.4" fill="#000"/>
<rect x="919" y="0" width="1" height="17" fill="#8c8c8c"/><rect x="920" y="0" width="1" height="17" fill="#fff"/>
<rect x="923" y="1" width="3" height="1" fill="#b0b0b0"/>
<rect x="923" y="3" width="3" height="1" fill="#b0b0b0"/>
<rect x="923" y="5" width="3" height="1" fill="#b0b0b0"/>
<rect x="923" y="7" width="3" height="1" fill="#b0b0b0"/>
<rect x="923" y="9" width="3" height="1" fill="#b0b0b0"/>
<rect x="923" y="11" width="3" height="1" fill="#b0b0b0"/>
<rect x="923" y="13" width="3" height="1" fill="#b0b0b0"/>
<text x="934.8" y="8.9" font-size="9.4" fill="#3c3c3c" textLength="12.4" lengthAdjust="spacingAndGlyphs">M1</text>
<text x="962.7" y="8.9" font-size="9.4" fill="#3c3c3c" textLength="12.4" lengthAdjust="spacingAndGlyphs">M5</text>
<text x="988.3" y="8.9" font-size="9.4" fill="#3c3c3c" textLength="17.4" lengthAdjust="spacingAndGlyphs">M15</text>
<text x="1016.6" y="8.9" font-size="9.4" fill="#3c3c3c" textLength="17.4" lengthAdjust="spacingAndGlyphs">M30</text>
<text x="1047.3" y="8.9" font-size="9.4" fill="#3c3c3c" textLength="11.8" lengthAdjust="spacingAndGlyphs">H1</text>
<rect x="1070" y="0" width="24" height="15.5" fill="#f8f8f8"/><rect x="1069" y="0" width="1" height="14.6" fill="#8c8c8c"/>
<text x="1074.6" y="8.9" font-size="9.4" fill="#3c3c3c" textLength="12.2" lengthAdjust="spacingAndGlyphs">H4</text>
<text x="1103.7" y="8.9" font-size="9.4" fill="#3c3c3c" textLength="11.6" lengthAdjust="spacingAndGlyphs">D1</text>
<text x="1131.3" y="8.9" font-size="9.4" fill="#3c3c3c" textLength="13.8" lengthAdjust="spacingAndGlyphs">W1</text>
<text x="1157.8" y="8.9" font-size="9.4" fill="#3c3c3c" textLength="14.6" lengthAdjust="spacingAndGlyphs">MN</text>
<rect x="1180" y="0" width="1" height="17" fill="#8c8c8c"/>
<path d="M1642.5 10L1646.6 5.6" stroke="#2a5cc8" stroke-width="2.2" stroke-linecap="round"/><circle cx="1650" cy="1.6" r="3.9" fill="#eaf2fc" stroke="#2a5cc8" stroke-width="1.5"/>
<path d="M1667 3Q1666.6 9.6 1671 10.2L1670.6 13.6L1674.4 10.4Q1679 10.4 1680 6V0H1667.6Z" fill="#dcdce4" stroke="#b4b4bc" stroke-width="0.7"/>
<circle cx="1681.2" cy="2.4" r="7.8" fill="#da2a14"/><text x="1678.6" y="6.4" font-family="Liberation Serif" font-size="12" fill="#fff">1</text>
</g></g>
</svg></body></html>
